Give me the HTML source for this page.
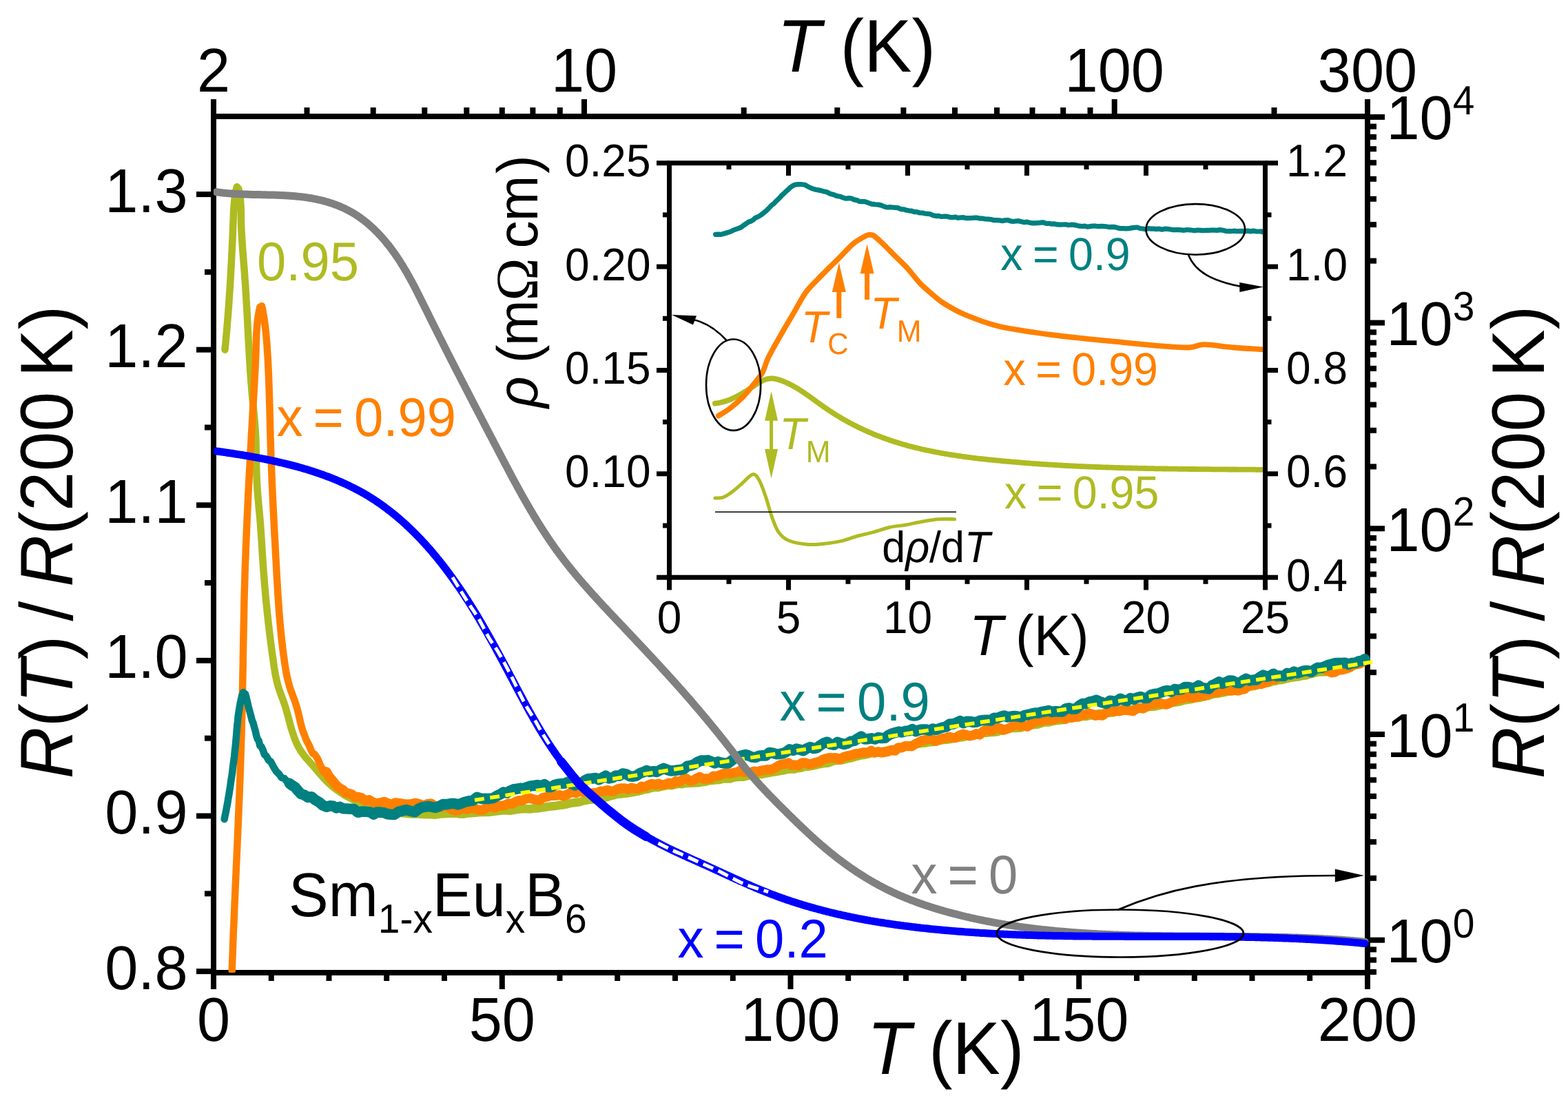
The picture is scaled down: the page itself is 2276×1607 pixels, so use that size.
<!DOCTYPE html>
<html><head><meta charset="utf-8"><title>Sm1-xEuxB6 resistivity</title><style>html,body{margin:0;padding:0;background:#fff;overflow:hidden}svg{display:block}text{text-rendering:geometricPrecision}</style></head><body>
<svg xmlns="http://www.w3.org/2000/svg" width="2276" height="1607" viewBox="0 0 2276 1607">
<defs><clipPath id="mainclip"><rect x="310.0" y="169.0" width="1683.0" height="1243.0"/></clipPath></defs>
<rect width="100%" height="100%" fill="#fff"/>
<rect x="310.0" y="169.0" width="1675.0" height="1243.0" fill="none" stroke="#000" stroke-width="8"/>
<line x1="310.0" y1="1412.0" x2="310.0" y2="1436.0" stroke="#000" stroke-width="8" stroke-linecap="butt"/>
<line x1="393.8" y1="1412.0" x2="393.8" y2="1424.0" stroke="#000" stroke-width="8" stroke-linecap="butt"/>
<line x1="477.5" y1="1412.0" x2="477.5" y2="1424.0" stroke="#000" stroke-width="8" stroke-linecap="butt"/>
<line x1="561.2" y1="1412.0" x2="561.2" y2="1424.0" stroke="#000" stroke-width="8" stroke-linecap="butt"/>
<line x1="645.0" y1="1412.0" x2="645.0" y2="1424.0" stroke="#000" stroke-width="8" stroke-linecap="butt"/>
<line x1="728.8" y1="1412.0" x2="728.8" y2="1436.0" stroke="#000" stroke-width="8" stroke-linecap="butt"/>
<line x1="812.5" y1="1412.0" x2="812.5" y2="1424.0" stroke="#000" stroke-width="8" stroke-linecap="butt"/>
<line x1="896.2" y1="1412.0" x2="896.2" y2="1424.0" stroke="#000" stroke-width="8" stroke-linecap="butt"/>
<line x1="980.0" y1="1412.0" x2="980.0" y2="1424.0" stroke="#000" stroke-width="8" stroke-linecap="butt"/>
<line x1="1063.8" y1="1412.0" x2="1063.8" y2="1424.0" stroke="#000" stroke-width="8" stroke-linecap="butt"/>
<line x1="1147.5" y1="1412.0" x2="1147.5" y2="1436.0" stroke="#000" stroke-width="8" stroke-linecap="butt"/>
<line x1="1231.2" y1="1412.0" x2="1231.2" y2="1424.0" stroke="#000" stroke-width="8" stroke-linecap="butt"/>
<line x1="1315.0" y1="1412.0" x2="1315.0" y2="1424.0" stroke="#000" stroke-width="8" stroke-linecap="butt"/>
<line x1="1398.8" y1="1412.0" x2="1398.8" y2="1424.0" stroke="#000" stroke-width="8" stroke-linecap="butt"/>
<line x1="1482.5" y1="1412.0" x2="1482.5" y2="1424.0" stroke="#000" stroke-width="8" stroke-linecap="butt"/>
<line x1="1566.2" y1="1412.0" x2="1566.2" y2="1436.0" stroke="#000" stroke-width="8" stroke-linecap="butt"/>
<line x1="1650.0" y1="1412.0" x2="1650.0" y2="1424.0" stroke="#000" stroke-width="8" stroke-linecap="butt"/>
<line x1="1733.8" y1="1412.0" x2="1733.8" y2="1424.0" stroke="#000" stroke-width="8" stroke-linecap="butt"/>
<line x1="1817.5" y1="1412.0" x2="1817.5" y2="1424.0" stroke="#000" stroke-width="8" stroke-linecap="butt"/>
<line x1="1901.2" y1="1412.0" x2="1901.2" y2="1424.0" stroke="#000" stroke-width="8" stroke-linecap="butt"/>
<line x1="1985.0" y1="1412.0" x2="1985.0" y2="1436.0" stroke="#000" stroke-width="8" stroke-linecap="butt"/>
<line x1="285.0" y1="1410.1" x2="310.0" y2="1410.1" stroke="#000" stroke-width="8" stroke-linecap="butt"/>
<line x1="297.0" y1="1297.3" x2="310.0" y2="1297.3" stroke="#000" stroke-width="8" stroke-linecap="butt"/>
<line x1="285.0" y1="1184.5" x2="310.0" y2="1184.5" stroke="#000" stroke-width="8" stroke-linecap="butt"/>
<line x1="297.0" y1="1071.7" x2="310.0" y2="1071.7" stroke="#000" stroke-width="8" stroke-linecap="butt"/>
<line x1="285.0" y1="958.9" x2="310.0" y2="958.9" stroke="#000" stroke-width="8" stroke-linecap="butt"/>
<line x1="297.0" y1="846.1" x2="310.0" y2="846.1" stroke="#000" stroke-width="8" stroke-linecap="butt"/>
<line x1="285.0" y1="733.3" x2="310.0" y2="733.3" stroke="#000" stroke-width="8" stroke-linecap="butt"/>
<line x1="297.0" y1="620.5" x2="310.0" y2="620.5" stroke="#000" stroke-width="8" stroke-linecap="butt"/>
<line x1="285.0" y1="507.7" x2="310.0" y2="507.7" stroke="#000" stroke-width="8" stroke-linecap="butt"/>
<line x1="297.0" y1="394.9" x2="310.0" y2="394.9" stroke="#000" stroke-width="8" stroke-linecap="butt"/>
<line x1="285.0" y1="282.1" x2="310.0" y2="282.1" stroke="#000" stroke-width="8" stroke-linecap="butt"/>
<line x1="445.5" y1="169.0" x2="445.5" y2="156.0" stroke="#000" stroke-width="8" stroke-linecap="butt"/>
<line x1="541.7" y1="169.0" x2="541.7" y2="156.0" stroke="#000" stroke-width="8" stroke-linecap="butt"/>
<line x1="616.3" y1="169.0" x2="616.3" y2="156.0" stroke="#000" stroke-width="8" stroke-linecap="butt"/>
<line x1="677.3" y1="169.0" x2="677.3" y2="156.0" stroke="#000" stroke-width="8" stroke-linecap="butt"/>
<line x1="728.8" y1="169.0" x2="728.8" y2="156.0" stroke="#000" stroke-width="8" stroke-linecap="butt"/>
<line x1="773.4" y1="169.0" x2="773.4" y2="156.0" stroke="#000" stroke-width="8" stroke-linecap="butt"/>
<line x1="812.8" y1="169.0" x2="812.8" y2="156.0" stroke="#000" stroke-width="8" stroke-linecap="butt"/>
<line x1="1079.7" y1="169.0" x2="1079.7" y2="156.0" stroke="#000" stroke-width="8" stroke-linecap="butt"/>
<line x1="1215.3" y1="169.0" x2="1215.3" y2="156.0" stroke="#000" stroke-width="8" stroke-linecap="butt"/>
<line x1="1311.4" y1="169.0" x2="1311.4" y2="156.0" stroke="#000" stroke-width="8" stroke-linecap="butt"/>
<line x1="1386.0" y1="169.0" x2="1386.0" y2="156.0" stroke="#000" stroke-width="8" stroke-linecap="butt"/>
<line x1="1447.0" y1="169.0" x2="1447.0" y2="156.0" stroke="#000" stroke-width="8" stroke-linecap="butt"/>
<line x1="1498.5" y1="169.0" x2="1498.5" y2="156.0" stroke="#000" stroke-width="8" stroke-linecap="butt"/>
<line x1="1543.2" y1="169.0" x2="1543.2" y2="156.0" stroke="#000" stroke-width="8" stroke-linecap="butt"/>
<line x1="1582.5" y1="169.0" x2="1582.5" y2="156.0" stroke="#000" stroke-width="8" stroke-linecap="butt"/>
<line x1="1849.5" y1="169.0" x2="1849.5" y2="156.0" stroke="#000" stroke-width="8" stroke-linecap="butt"/>
<line x1="310.0" y1="169.0" x2="310.0" y2="144.0" stroke="#000" stroke-width="8" stroke-linecap="butt"/>
<line x1="848.0" y1="169.0" x2="848.0" y2="144.0" stroke="#000" stroke-width="8" stroke-linecap="butt"/>
<line x1="1617.7" y1="169.0" x2="1617.7" y2="144.0" stroke="#000" stroke-width="8" stroke-linecap="butt"/>
<line x1="1985.0" y1="169.0" x2="1985.0" y2="144.0" stroke="#000" stroke-width="8" stroke-linecap="butt"/>
<line x1="1985.0" y1="1364.7" x2="2010.0" y2="1364.7" stroke="#000" stroke-width="8" stroke-linecap="butt"/>
<line x1="1985.0" y1="1066.0" x2="2010.0" y2="1066.0" stroke="#000" stroke-width="8" stroke-linecap="butt"/>
<line x1="1985.0" y1="767.3" x2="2010.0" y2="767.3" stroke="#000" stroke-width="8" stroke-linecap="butt"/>
<line x1="1985.0" y1="468.6" x2="2010.0" y2="468.6" stroke="#000" stroke-width="8" stroke-linecap="butt"/>
<line x1="1985.0" y1="169.9" x2="2010.0" y2="169.9" stroke="#000" stroke-width="8" stroke-linecap="butt"/>
<line x1="1985.0" y1="1411.0" x2="1998.0" y2="1411.0" stroke="#000" stroke-width="8" stroke-linecap="butt"/>
<line x1="1985.0" y1="1393.6" x2="1998.0" y2="1393.6" stroke="#000" stroke-width="8" stroke-linecap="butt"/>
<line x1="1985.0" y1="1378.4" x2="1998.0" y2="1378.4" stroke="#000" stroke-width="8" stroke-linecap="butt"/>
<line x1="1985.0" y1="1274.8" x2="1998.0" y2="1274.8" stroke="#000" stroke-width="8" stroke-linecap="butt"/>
<line x1="1985.0" y1="1222.2" x2="1998.0" y2="1222.2" stroke="#000" stroke-width="8" stroke-linecap="butt"/>
<line x1="1985.0" y1="1184.9" x2="1998.0" y2="1184.9" stroke="#000" stroke-width="8" stroke-linecap="butt"/>
<line x1="1985.0" y1="1155.9" x2="1998.0" y2="1155.9" stroke="#000" stroke-width="8" stroke-linecap="butt"/>
<line x1="1985.0" y1="1132.3" x2="1998.0" y2="1132.3" stroke="#000" stroke-width="8" stroke-linecap="butt"/>
<line x1="1985.0" y1="1112.3" x2="1998.0" y2="1112.3" stroke="#000" stroke-width="8" stroke-linecap="butt"/>
<line x1="1985.0" y1="1094.9" x2="1998.0" y2="1094.9" stroke="#000" stroke-width="8" stroke-linecap="butt"/>
<line x1="1985.0" y1="1079.7" x2="1998.0" y2="1079.7" stroke="#000" stroke-width="8" stroke-linecap="butt"/>
<line x1="1985.0" y1="976.1" x2="1998.0" y2="976.1" stroke="#000" stroke-width="8" stroke-linecap="butt"/>
<line x1="1985.0" y1="923.5" x2="1998.0" y2="923.5" stroke="#000" stroke-width="8" stroke-linecap="butt"/>
<line x1="1985.0" y1="886.2" x2="1998.0" y2="886.2" stroke="#000" stroke-width="8" stroke-linecap="butt"/>
<line x1="1985.0" y1="857.2" x2="1998.0" y2="857.2" stroke="#000" stroke-width="8" stroke-linecap="butt"/>
<line x1="1985.0" y1="833.6" x2="1998.0" y2="833.6" stroke="#000" stroke-width="8" stroke-linecap="butt"/>
<line x1="1985.0" y1="813.6" x2="1998.0" y2="813.6" stroke="#000" stroke-width="8" stroke-linecap="butt"/>
<line x1="1985.0" y1="796.2" x2="1998.0" y2="796.2" stroke="#000" stroke-width="8" stroke-linecap="butt"/>
<line x1="1985.0" y1="781.0" x2="1998.0" y2="781.0" stroke="#000" stroke-width="8" stroke-linecap="butt"/>
<line x1="1985.0" y1="677.4" x2="1998.0" y2="677.4" stroke="#000" stroke-width="8" stroke-linecap="butt"/>
<line x1="1985.0" y1="624.8" x2="1998.0" y2="624.8" stroke="#000" stroke-width="8" stroke-linecap="butt"/>
<line x1="1985.0" y1="587.5" x2="1998.0" y2="587.5" stroke="#000" stroke-width="8" stroke-linecap="butt"/>
<line x1="1985.0" y1="558.5" x2="1998.0" y2="558.5" stroke="#000" stroke-width="8" stroke-linecap="butt"/>
<line x1="1985.0" y1="534.9" x2="1998.0" y2="534.9" stroke="#000" stroke-width="8" stroke-linecap="butt"/>
<line x1="1985.0" y1="514.9" x2="1998.0" y2="514.9" stroke="#000" stroke-width="8" stroke-linecap="butt"/>
<line x1="1985.0" y1="497.5" x2="1998.0" y2="497.5" stroke="#000" stroke-width="8" stroke-linecap="butt"/>
<line x1="1985.0" y1="482.3" x2="1998.0" y2="482.3" stroke="#000" stroke-width="8" stroke-linecap="butt"/>
<line x1="1985.0" y1="378.7" x2="1998.0" y2="378.7" stroke="#000" stroke-width="8" stroke-linecap="butt"/>
<line x1="1985.0" y1="326.1" x2="1998.0" y2="326.1" stroke="#000" stroke-width="8" stroke-linecap="butt"/>
<line x1="1985.0" y1="288.8" x2="1998.0" y2="288.8" stroke="#000" stroke-width="8" stroke-linecap="butt"/>
<line x1="1985.0" y1="259.8" x2="1998.0" y2="259.8" stroke="#000" stroke-width="8" stroke-linecap="butt"/>
<line x1="1985.0" y1="236.2" x2="1998.0" y2="236.2" stroke="#000" stroke-width="8" stroke-linecap="butt"/>
<line x1="1985.0" y1="216.2" x2="1998.0" y2="216.2" stroke="#000" stroke-width="8" stroke-linecap="butt"/>
<line x1="1985.0" y1="198.8" x2="1998.0" y2="198.8" stroke="#000" stroke-width="8" stroke-linecap="butt"/>
<line x1="1985.0" y1="183.6" x2="1998.0" y2="183.6" stroke="#000" stroke-width="8" stroke-linecap="butt"/>
<g clip-path="url(#mainclip)">
<path d="M326.5,507.7 L327.0,502.7 L327.5,497.7 L328.0,492.7 L328.4,487.7 L328.9,482.7 L329.3,477.7 L329.7,472.7 L330.1,467.7 L330.6,461.8 L331.1,455.8 L331.5,449.8 L332.0,443.8 L332.4,437.9 L332.8,431.9 L333.2,425.9 L333.6,420.0 L334.0,414.0 L334.3,408.0 L334.7,402.1 L335.0,396.1 L335.4,390.1 L335.7,384.1 L336.0,378.1 L336.3,372.1 L336.5,367.2 L336.8,362.2 L337.0,357.1 L337.2,352.1 L337.5,347.1 L337.7,342.1 L337.9,337.1 L338.1,332.0 L338.3,327.0 L338.5,322.0 L338.7,316.9 L338.9,311.9 L339.1,306.8 L339.4,301.7 L339.8,296.6 L340.3,291.6 L340.8,286.5 L341.6,281.4 L342.5,276.2 L343.8,271.2 L346.3,274.2 L347.4,279.2 L348.3,284.3 L348.9,289.4 L349.3,294.6 L349.6,299.7 L349.8,304.9 L349.9,310.0 L349.9,315.1 L350.0,320.3 L350.1,325.3 L350.3,330.4 L350.5,335.4 L350.8,340.5 L351.1,345.5 L351.5,351.4 L351.9,357.4 L352.3,363.3 L352.8,369.3 L353.3,375.2 L353.7,381.1 L354.2,387.1 L354.7,393.0 L355.1,399.0 L355.5,405.0 L356.0,410.9 L356.4,416.9 L356.7,421.9 L357.0,426.9 L357.3,431.9 L357.6,436.9 L357.9,441.9 L358.2,446.9 L358.5,451.9 L358.7,456.9 L359.0,462.0 L359.3,467.0 L359.5,472.0 L359.8,477.0 L360.1,482.0 L360.3,487.0 L360.6,492.0 L360.8,497.0 L361.1,501.9 L361.4,506.9 L361.7,511.9 L361.9,516.9 L362.3,522.9 L362.7,528.9 L363.0,534.9 L363.4,540.9 L363.9,546.9 L364.3,552.8 L364.8,558.8 L365.2,563.8 L365.6,568.8 L366.0,573.8 L366.5,578.8 L367.0,583.7 L367.5,588.7 L368.0,593.7 L368.5,598.7 L368.9,603.7 L369.4,608.6 L369.8,613.6 L370.2,618.6 L370.6,623.6 L370.9,628.6 L371.2,633.6 L371.4,638.6 L371.5,643.6 L371.7,648.6 L371.8,653.6 L371.9,658.6 L371.9,663.6 L372.0,668.6 L372.1,673.6 L372.2,678.6 L372.3,683.6 L372.4,688.6 L372.7,694.6 L372.9,700.6 L373.3,706.6 L373.7,712.6 L374.2,718.6 L374.6,723.5 L375.1,728.5 L375.5,733.5 L376.0,738.5 L376.5,743.5 L376.9,748.4 L377.4,753.4 L377.8,758.4 L378.2,763.4 L378.5,768.4 L378.9,773.4 L379.2,778.4 L379.6,783.4 L379.9,788.4 L380.2,793.4 L380.5,798.4 L380.8,803.4 L381.1,808.4 L381.5,813.4 L381.8,818.3 L382.2,823.3 L382.5,828.3 L382.9,833.3 L383.4,839.3 L383.8,845.3 L384.3,851.2 L384.9,857.2 L385.4,863.2 L385.9,869.2 L386.5,875.1 L387.1,881.1 L387.7,887.1 L388.3,893.0 L388.9,898.0 L389.4,903.0 L390.0,908.0 L390.6,912.9 L391.2,917.9 L391.8,922.9 L392.4,927.8 L393.0,932.8 L393.7,937.8 L394.3,942.7 L395.0,947.7 L395.7,952.7 L396.4,957.6 L397.1,962.6 L397.8,967.6 L398.6,972.5 L399.4,977.4 L400.4,982.4 L401.6,988.2 L403.1,994.0 L404.8,999.8 L406.8,1005.4 L408.5,1010.1 L410.3,1014.8 L412.3,1020.4 L414.2,1026.1 L415.9,1031.9 L417.5,1037.6 L419.0,1043.4 L420.3,1048.3 L421.6,1053.1 L423.0,1058.0 L424.5,1062.9 L426.1,1067.7 L427.8,1072.4 L429.7,1077.1 L431.8,1081.6 L434.6,1086.9 L437.8,1091.9 L441.3,1096.7 L445.1,1101.3 L449.1,1105.8 L452.5,1109.5 L455.8,1113.3 L459.1,1117.1 L462.4,1121.0 L465.7,1124.8 L469.0,1128.6 L472.4,1132.2 L476.0,1135.8 L480.4,1139.8 L485.0,1143.6 L489.8,1147.3 L494.7,1150.7 L499.7,1153.9 L504.9,1156.9 L510.2,1159.7 L515.5,1162.4 L521.0,1164.8 L526.6,1167.0 L532.2,1169.1 L537.9,1171.0 L542.7,1172.4 L547.5,1173.7 L552.4,1174.9 L557.3,1176.0 L562.2,1177.0 L567.1,1177.9 L572.1,1178.7 L577.1,1179.4 L582.1,1180.0 L587.1,1180.6 L592.1,1181.0 L597.1,1181.4 L602.1,1181.4 L607.1,1181.5 L613.1,1182.0 L619.0,1182.2 L625.0,1182.3 L631.0,1182.9 L637.0,1181.9 L643.0,1181.3 L649.0,1181.0 L655.0,1180.8 L661.0,1180.4 L666.9,1181.5 L672.9,1181.7 L678.9,1180.4 L684.9,1180.2 L689.9,1179.7 L694.9,1179.2 L699.9,1178.9 L704.9,1179.0 L709.9,1178.9 L714.9,1178.2 L719.9,1177.5 L724.9,1177.1 L729.9,1176.4 L734.8,1176.6 L739.8,1176.7 L744.8,1176.1 L749.8,1175.1 L754.8,1174.5 L759.8,1174.2 L764.8,1174.3 L769.8,1174.4 L774.8,1173.5 L779.7,1173.5 L784.7,1172.9 L789.7,1172.0 L794.6,1171.2 L799.6,1170.6 L805.5,1170.1 L811.5,1169.0 L817.4,1168.5 L823.3,1167.3 L829.2,1165.8 L835.2,1165.0 L841.1,1164.3 L847.0,1162.4 L851.9,1161.6 L856.8,1160.7 L861.7,1160.5 L866.6,1160.0 L871.5,1158.4 L876.4,1158.0 L881.3,1157.1 L886.2,1155.3 L891.1,1154.3 L896.0,1152.7 L901.0,1152.6 L905.9,1151.8 L910.8,1151.4 L915.7,1150.6 L920.7,1149.6 L925.6,1148.8 L930.5,1147.7 L935.4,1146.0 L940.4,1145.5 L945.3,1143.9 L950.3,1142.9 L955.2,1143.1 L960.2,1141.7 L965.1,1140.6 L970.1,1139.7 L975.0,1140.2 L980.0,1139.0 L984.9,1137.8 L989.9,1138.2 L994.8,1136.9 L999.8,1137.1 L1004.8,1136.7 L1009.7,1136.4 L1014.7,1136.2 L1019.7,1135.2 L1024.6,1134.7 L1029.6,1133.0 L1034.6,1132.9 L1039.5,1132.2 L1044.5,1131.9 L1049.5,1130.5 L1054.4,1130.5 L1059.4,1130.5 L1064.4,1128.8 L1069.3,1128.0 L1074.3,1127.7 L1079.3,1127.7 L1084.2,1126.4 L1089.2,1125.3 L1094.1,1124.5 L1100.1,1124.2 L1106.0,1123.9 L1112.0,1122.7 L1117.9,1121.6 L1123.8,1120.6 L1129.7,1119.5 L1135.7,1118.6 L1141.6,1117.1 L1147.5,1116.5 L1152.4,1116.6 L1157.3,1115.3 L1162.3,1114.8 L1167.2,1113.1 L1172.1,1112.7 L1177.0,1112.1 L1181.9,1111.2 L1186.8,1110.0 L1191.7,1108.9 L1196.7,1108.1 L1201.6,1107.7 L1206.5,1105.8 L1211.4,1104.2 L1216.3,1103.9 L1221.2,1103.6 L1226.1,1102.4 L1231.0,1101.1 L1235.9,1100.4 L1240.8,1098.7 L1245.7,1097.4 L1250.6,1096.2 L1255.5,1095.7 L1260.4,1094.5 L1265.3,1093.3 L1270.2,1092.9 L1275.1,1092.6 L1280.0,1091.0 L1285.0,1090.3 L1289.9,1089.0 L1294.8,1088.6 L1299.7,1087.5 L1304.6,1085.9 L1309.5,1084.5 L1314.4,1083.1 L1319.3,1082.5 L1324.2,1081.7 L1329.1,1080.4 L1334.1,1079.6 L1339.0,1078.7 L1343.9,1078.6 L1348.8,1077.1 L1353.7,1077.2 L1358.7,1076.1 L1363.6,1075.2 L1368.5,1074.2 L1373.4,1073.8 L1378.4,1073.3 L1383.3,1072.1 L1388.2,1071.0 L1393.2,1070.5 L1398.1,1070.0 L1403.0,1068.7 L1408.0,1068.1 L1412.9,1067.8 L1417.9,1066.5 L1422.8,1065.0 L1427.7,1063.9 L1432.7,1063.7 L1437.6,1063.1 L1442.6,1062.9 L1447.5,1062.3 L1452.4,1060.6 L1457.4,1059.2 L1462.3,1058.2 L1467.2,1057.2 L1472.2,1057.0 L1477.1,1056.8 L1482.0,1056.4 L1487.0,1054.7 L1491.9,1054.4 L1496.8,1053.0 L1501.7,1051.9 L1506.7,1051.5 L1511.6,1049.8 L1516.5,1048.5 L1521.5,1048.6 L1526.4,1047.4 L1531.3,1046.4 L1536.2,1045.9 L1541.2,1045.3 L1546.1,1043.6 L1551.0,1042.8 L1556.0,1042.2 L1560.9,1041.5 L1565.9,1040.4 L1570.8,1040.1 L1575.7,1040.1 L1580.7,1038.9 L1585.6,1038.2 L1590.6,1036.8 L1595.5,1035.9 L1600.5,1035.8 L1605.4,1034.5 L1610.4,1034.7 L1615.3,1034.5 L1620.3,1032.8 L1625.3,1032.9 L1630.2,1031.7 L1635.2,1031.4 L1640.1,1030.8 L1645.1,1029.5 L1650.0,1029.0 L1654.9,1028.4 L1659.9,1027.9 L1664.8,1026.4 L1669.8,1026.0 L1674.7,1025.8 L1679.6,1024.8 L1684.6,1023.6 L1689.5,1021.9 L1694.4,1021.2 L1699.3,1020.2 L1704.3,1019.8 L1709.2,1019.1 L1714.1,1018.1 L1719.0,1016.5 L1723.9,1015.9 L1728.8,1015.1 L1733.7,1013.5 L1738.6,1013.3 L1743.5,1012.3 L1748.4,1010.5 L1753.3,1010.3 L1758.2,1008.5 L1763.1,1007.3 L1768.0,1006.8 L1772.9,1005.9 L1777.8,1004.8 L1782.7,1003.9 L1787.6,1002.6 L1792.5,1001.2 L1797.3,999.7 L1802.2,998.3 L1807.1,998.0 L1812.0,997.5 L1816.9,996.3 L1821.8,995.6 L1826.7,994.1 L1831.6,992.6 L1836.5,991.5 L1841.4,991.3 L1846.3,989.3 L1851.2,988.6 L1856.1,987.3 L1861.0,986.9 L1865.9,985.6 L1870.8,984.5 L1875.7,983.5 L1880.6,982.8 L1885.5,982.3 L1890.4,981.0 L1895.3,980.6 L1900.3,978.9 L1905.2,977.8 L1910.1,976.5 L1915.0,975.4 L1920.0,975.6 L1924.9,975.2 L1930.8,973.6 L1936.7,972.2 L1942.6,971.2 L1948.5,970.6 L1954.3,969.7 L1959.2,968.6 L1964.0,967.0 L1968.7,964.7 L1973.5,962.9 L1978.2,960.6 L1981.0,959.7" fill="none" stroke="#AFBB22" stroke-width="10.5" stroke-linejoin="round" stroke-linecap="round" />
<path d="M521.0,1164.8 L526.6,1167.0 L532.2,1169.1 L537.9,1171.0 L542.7,1172.4 L547.5,1173.7 L552.4,1174.9 L557.3,1176.0 L562.2,1177.0 L567.1,1177.9 L572.1,1178.7 L577.1,1179.4 L582.1,1180.0 L587.1,1180.6 L592.1,1181.0 L597.1,1181.4 L602.1,1181.4 L607.1,1181.5 L613.1,1182.0 L619.0,1182.2 L625.0,1182.3 L631.0,1182.9 L637.0,1181.9 L643.0,1181.3 L649.0,1181.0 L655.0,1180.8 L661.0,1180.4 L666.9,1181.5 L672.9,1181.7 L678.9,1180.4 L684.9,1180.2 L689.9,1179.7 L694.9,1179.2 L699.9,1178.9 L704.9,1179.0 L709.9,1178.9 L714.9,1178.2 L719.9,1177.5 L724.9,1177.1 L729.9,1176.4 L734.8,1176.6 L739.8,1176.7 L744.8,1176.1 L749.8,1175.1 L754.8,1174.5 L759.8,1174.2 L764.8,1174.3 L769.8,1174.4 L774.8,1173.5 L779.7,1173.5 L784.7,1172.9 L789.7,1172.0 L794.6,1171.2 L799.6,1170.6 L805.5,1170.1 L811.5,1169.0 L817.4,1168.5 L823.3,1167.3 L829.2,1165.8 L835.2,1165.0 L841.1,1164.3 L847.0,1162.4 L851.9,1161.6 L856.8,1160.7 L861.7,1160.5 L866.6,1160.0 L871.5,1158.4 L876.4,1158.0 L881.3,1157.1 L886.2,1155.3 L891.1,1154.3 L896.0,1152.7 L901.0,1152.6 L905.9,1151.8 L910.8,1151.4 L915.7,1150.6 L920.7,1149.6 L925.6,1148.8 L930.5,1147.7 L935.4,1146.0 L940.4,1145.5 L945.3,1143.9 L950.3,1142.9 L955.2,1143.1 L960.2,1141.7 L965.1,1140.6 L970.1,1139.7 L975.0,1140.2 L980.0,1139.0 L984.9,1137.8 L989.9,1138.2 L994.8,1136.9 L999.8,1137.1 L1004.8,1136.7 L1009.7,1136.4 L1014.7,1136.2 L1019.7,1135.2 L1024.6,1134.7 L1029.6,1133.0 L1034.6,1132.9 L1039.5,1132.2 L1044.5,1131.9 L1049.5,1130.5 L1054.4,1130.5 L1059.4,1130.5 L1064.4,1128.8 L1069.3,1128.0 L1074.3,1127.7 L1079.3,1127.7 L1084.2,1126.4 L1089.2,1125.3 L1094.1,1124.5 L1100.1,1124.2 L1106.0,1123.9 L1112.0,1122.7 L1117.9,1121.6 L1123.8,1120.6 L1129.7,1119.5 L1135.7,1118.6 L1141.6,1117.1 L1147.5,1116.5 L1152.4,1116.6 L1157.3,1115.3 L1162.3,1114.8 L1167.2,1113.1 L1172.1,1112.7 L1177.0,1112.1 L1181.9,1111.2 L1186.8,1110.0 L1191.7,1108.9 L1196.7,1108.1 L1201.6,1107.7 L1206.5,1105.8 L1211.4,1104.2 L1216.3,1103.9 L1221.2,1103.6 L1226.1,1102.4 L1231.0,1101.1 L1235.9,1100.4 L1240.8,1098.7 L1245.7,1097.4 L1250.6,1096.2 L1255.5,1095.7 L1260.4,1094.5 L1265.3,1093.3 L1270.2,1092.9 L1275.1,1092.6 L1280.0,1091.0 L1285.0,1090.3 L1289.9,1089.0 L1294.8,1088.6 L1299.7,1087.5 L1304.6,1085.9 L1309.5,1084.5 L1314.4,1083.1 L1319.3,1082.5 L1324.2,1081.7 L1329.1,1080.4 L1334.1,1079.6 L1339.0,1078.7 L1343.9,1078.6 L1348.8,1077.1 L1353.7,1077.2 L1358.7,1076.1 L1363.6,1075.2 L1368.5,1074.2 L1373.4,1073.8 L1378.4,1073.3 L1383.3,1072.1 L1388.2,1071.0 L1393.2,1070.5 L1398.1,1070.0 L1403.0,1068.7 L1408.0,1068.1 L1412.9,1067.8 L1417.9,1066.5 L1422.8,1065.0 L1427.7,1063.9 L1432.7,1063.7 L1437.6,1063.1 L1442.6,1062.9 L1447.5,1062.3 L1452.4,1060.6 L1457.4,1059.2 L1462.3,1058.2 L1467.2,1057.2 L1472.2,1057.0 L1477.1,1056.8 L1482.0,1056.4 L1487.0,1054.7 L1491.9,1054.4 L1496.8,1053.0 L1501.7,1051.9 L1506.7,1051.5 L1511.6,1049.8 L1516.5,1048.5 L1521.5,1048.6 L1526.4,1047.4 L1531.3,1046.4 L1536.2,1045.9 L1541.2,1045.3 L1546.1,1043.6 L1551.0,1042.8 L1556.0,1042.2 L1560.9,1041.5 L1565.9,1040.4 L1570.8,1040.1 L1575.7,1040.1 L1580.7,1038.9 L1585.6,1038.2 L1590.6,1036.8 L1595.5,1035.9 L1600.5,1035.8 L1605.4,1034.5 L1610.4,1034.7 L1615.3,1034.5 L1620.3,1032.8 L1625.3,1032.9 L1630.2,1031.7 L1635.2,1031.4 L1640.1,1030.8 L1645.1,1029.5 L1650.0,1029.0 L1654.9,1028.4 L1659.9,1027.9 L1664.8,1026.4 L1669.8,1026.0 L1674.7,1025.8 L1679.6,1024.8 L1684.6,1023.6 L1689.5,1021.9 L1694.4,1021.2 L1699.3,1020.2 L1704.3,1019.8 L1709.2,1019.1 L1714.1,1018.1 L1719.0,1016.5 L1723.9,1015.9 L1728.8,1015.1 L1733.7,1013.5 L1738.6,1013.3 L1743.5,1012.3 L1748.4,1010.5 L1753.3,1010.3 L1758.2,1008.5 L1763.1,1007.3 L1768.0,1006.8 L1772.9,1005.9 L1777.8,1004.8 L1782.7,1003.9 L1787.6,1002.6 L1792.5,1001.2 L1797.3,999.7 L1802.2,998.3 L1807.1,998.0 L1812.0,997.5 L1816.9,996.3 L1821.8,995.6 L1826.7,994.1 L1831.6,992.6 L1836.5,991.5 L1841.4,991.3 L1846.3,989.3 L1851.2,988.6 L1856.1,987.3 L1861.0,986.9 L1865.9,985.6 L1870.8,984.5 L1875.7,983.5 L1880.6,982.8 L1885.5,982.3 L1890.4,981.0 L1895.3,980.6 L1900.3,978.9 L1905.2,977.8 L1910.1,976.5 L1915.0,975.4 L1920.0,975.6 L1924.9,975.2 L1930.8,973.6 L1936.7,972.2 L1942.6,971.2 L1948.5,970.6 L1954.3,969.7 L1959.2,968.6 L1964.0,967.0 L1968.7,964.7 L1973.5,962.9 L1978.2,960.6 L1981.0,959.7" fill="none" stroke="#AFBB22" stroke-width="12.5" stroke-linejoin="round" stroke-linecap="round" />
<path d="M336.8,1409.0 L336.9,1404.0 L337.1,1399.0 L337.3,1394.0 L337.5,1389.0 L337.7,1384.0 L337.9,1379.0 L338.1,1374.0 L338.2,1369.0 L338.4,1364.0 L338.6,1359.0 L338.8,1354.0 L339.0,1349.0 L339.3,1344.0 L339.5,1339.0 L339.7,1334.0 L339.9,1329.0 L340.1,1324.0 L340.3,1319.0 L340.5,1314.0 L340.7,1309.0 L341.0,1304.0 L341.2,1299.0 L341.4,1294.0 L341.6,1289.0 L341.9,1283.0 L342.1,1277.0 L342.4,1271.0 L342.7,1265.0 L342.9,1259.0 L343.2,1253.0 L343.5,1247.0 L343.7,1241.1 L344.0,1235.1 L344.3,1229.1 L344.5,1223.1 L344.8,1217.1 L345.1,1211.1 L345.3,1205.1 L345.6,1199.1 L345.8,1193.1 L346.1,1187.1 L346.3,1181.1 L346.6,1175.1 L346.8,1169.2 L347.1,1163.2 L347.3,1157.2 L347.6,1151.2 L347.8,1145.2 L348.0,1139.2 L348.3,1133.2 L348.5,1127.2 L348.7,1121.2 L348.9,1116.2 L349.1,1111.2 L349.2,1106.2 L349.4,1101.2 L349.6,1096.2 L349.7,1091.2 L349.9,1086.2 L350.1,1081.2 L350.2,1076.2 L350.4,1071.2 L350.5,1066.2 L350.6,1061.2 L350.8,1056.2 L350.9,1051.2 L351.0,1046.2 L351.2,1041.2 L351.3,1036.2 L351.4,1031.2 L351.5,1026.2 L351.6,1021.2 L351.7,1016.2 L351.8,1011.1 L351.9,1006.1 L352.0,1001.1 L352.1,996.1 L352.2,991.1 L352.3,986.1 L352.4,981.1 L352.5,976.1 L352.6,971.1 L352.7,966.1 L352.8,961.0 L352.8,956.0 L352.9,951.0 L353.0,946.0 L353.1,941.0 L353.2,936.0 L353.3,931.0 L353.4,926.0 L353.5,921.0 L353.6,916.0 L353.7,911.0 L353.8,906.0 L353.9,901.0 L354.0,896.0 L354.1,891.0 L354.2,886.0 L354.3,881.0 L354.4,876.0 L354.5,870.0 L354.7,864.0 L354.8,858.0 L355.0,852.0 L355.2,846.0 L355.4,840.0 L355.5,834.0 L355.7,828.0 L355.9,822.1 L356.1,816.1 L356.4,810.1 L356.6,804.1 L356.8,798.1 L357.0,792.2 L357.3,786.2 L357.5,780.2 L357.8,774.2 L358.0,768.2 L358.3,762.3 L358.5,756.3 L358.8,750.3 L359.1,744.3 L359.4,738.3 L359.7,732.4 L359.9,726.4 L360.2,720.4 L360.5,714.4 L360.8,708.4 L361.1,702.4 L361.4,697.4 L361.7,692.4 L361.9,687.4 L362.2,682.4 L362.5,677.4 L362.7,672.4 L363.0,667.4 L363.3,662.4 L363.5,657.4 L363.8,652.4 L364.1,647.4 L364.4,642.4 L364.6,637.4 L364.9,632.3 L365.2,627.3 L365.5,622.3 L365.8,617.2 L366.1,612.2 L366.4,607.2 L366.6,602.1 L366.9,597.1 L367.2,592.0 L367.5,587.0 L367.8,581.9 L368.1,576.9 L368.4,571.8 L368.7,566.7 L369.0,561.7 L369.2,556.6 L369.5,551.6 L369.8,546.5 L370.1,541.5 L370.4,535.6 L370.7,529.6 L370.9,523.7 L371.2,517.9 L371.4,512.2 L371.6,506.5 L371.7,500.9 L371.9,495.4 L372.1,489.9 L372.3,484.2 L372.7,478.4 L373.1,473.3 L373.6,468.0 L374.3,462.4 L375.2,456.4 L376.1,451.5 L377.3,445.9 L379.9,444.2 L381.3,450.0 L382.3,456.1 L383.3,461.9 L384.1,467.5 L384.8,472.9 L385.4,478.1 L386.0,483.1 L386.5,488.9 L387.0,494.7 L387.5,500.3 L387.8,506.0 L388.2,511.8 L388.6,517.5 L388.9,523.3 L389.2,529.1 L389.5,535.0 L389.7,540.9 L390.0,546.8 L390.2,552.7 L390.4,558.7 L390.6,564.7 L390.8,569.7 L390.9,574.7 L391.1,579.7 L391.2,584.7 L391.4,589.8 L391.5,594.8 L391.6,599.9 L391.8,604.9 L391.9,610.0 L392.0,615.0 L392.1,620.1 L392.3,625.2 L392.4,630.2 L392.5,635.3 L392.7,640.3 L392.8,645.4 L393.0,650.4 L393.2,655.5 L393.3,660.5 L393.5,665.5 L393.7,670.5 L393.9,675.6 L394.1,680.6 L394.3,685.6 L394.5,690.6 L394.7,695.6 L394.9,701.6 L395.2,707.5 L395.5,713.5 L395.7,719.5 L396.0,725.5 L396.3,731.4 L396.6,737.4 L396.9,743.4 L397.2,749.3 L397.5,755.3 L397.8,761.3 L398.1,767.2 L398.4,773.2 L398.7,779.2 L399.1,785.1 L399.4,791.1 L399.7,797.1 L400.0,803.1 L400.3,809.1 L400.7,815.0 L401.0,821.0 L401.3,826.0 L401.5,831.0 L401.8,836.0 L402.1,841.0 L402.4,846.0 L402.7,851.0 L403.0,856.0 L403.3,861.0 L403.6,866.0 L404.0,871.1 L404.3,876.1 L404.7,881.1 L405.0,886.1 L405.4,891.1 L405.8,896.1 L406.2,901.1 L406.7,906.1 L407.1,911.1 L407.6,916.0 L408.1,921.0 L408.6,926.0 L409.2,931.0 L409.8,936.0 L410.3,940.9 L411.0,945.9 L411.6,950.9 L412.3,955.8 L413.1,961.8 L414.0,967.7 L415.0,973.6 L416.1,979.5 L417.3,985.3 L418.8,991.1 L420.4,996.9 L422.3,1002.6 L424.1,1007.3 L425.8,1012.0 L427.6,1016.7 L429.2,1021.4 L430.7,1026.2 L432.0,1031.1 L433.2,1036.0 L434.3,1040.9 L435.5,1045.8 L436.6,1050.7 L437.9,1055.5 L439.6,1061.3 L441.5,1065.8 L443.7,1072.0 L446.1,1077.4 L448.8,1082.2 L451.6,1089.3 L454.1,1093.8 L456.7,1095.0 L459.4,1098.8 L462.2,1103.9 L465.1,1111.1 L468.0,1116.8 L470.9,1119.8 L473.9,1120.3 L476.9,1126.6 L480.1,1129.9 L484.0,1134.8 L488.2,1140.0 L492.8,1143.9 L497.7,1146.6 L501.9,1151.1 L506.4,1151.7 L510.8,1153.1 L515.3,1157.4 L519.9,1156.9 L524.5,1158.0 L530.2,1162.4 L535.9,1161.1 L541.8,1164.9 L547.8,1166.1 L552.8,1165.1 L557.9,1163.8 L562.9,1165.9 L567.9,1168.0 L573.9,1165.2 L579.8,1165.9 L585.8,1166.9 L591.7,1167.4 L597.7,1166.9 L603.6,1165.7 L609.6,1167.4 L615.6,1169.7 L620.6,1166.9 L625.6,1166.4 L630.6,1169.6 L635.6,1171.4 L640.6,1172.0 L645.6,1169.0 L650.6,1171.6 L655.6,1174.7 L660.6,1176.7 L665.5,1176.3 L671.5,1172.6 L677.5,1175.0 L683.5,1172.7 L689.5,1173.8 L695.5,1175.9 L701.4,1175.5 L707.4,1171.8 L713.4,1170.3 L718.3,1172.7 L723.3,1169.5 L728.3,1169.9 L733.2,1168.7 L738.2,1166.2 L743.1,1167.0 L748.1,1163.8 L753.0,1162.0 L757.9,1162.1 L762.9,1159.9 L767.8,1158.2 L772.7,1159.7 L777.6,1161.0 L782.5,1162.0 L788.4,1157.8 L794.2,1156.6 L800.1,1154.8 L806.0,1155.0 L811.9,1154.1 L817.8,1155.7 L823.8,1153.2 L829.7,1149.8 L835.7,1151.3 L841.6,1148.8 L846.6,1150.1 L851.6,1150.0 L856.6,1152.0 L861.6,1151.1 L866.6,1150.8 L871.6,1148.5 L876.7,1148.7 L881.7,1147.0 L886.7,1148.7 L891.7,1148.1 L896.6,1145.4 L901.6,1144.3 L906.6,1144.2 L911.6,1145.9 L916.6,1143.5 L921.5,1144.8 L926.5,1145.0 L931.4,1141.5 L936.4,1142.6 L941.4,1139.6 L946.3,1137.8 L951.2,1139.1 L956.2,1137.5 L961.1,1139.8 L966.1,1138.5 L971.0,1136.5 L976.0,1137.8 L980.9,1133.8 L985.8,1135.1 L990.8,1131.7 L995.7,1130.0 L1000.7,1133.2 L1005.6,1133.1 L1010.5,1130.2 L1015.5,1127.6 L1020.4,1130.6 L1025.4,1130.2 L1030.3,1130.6 L1035.2,1126.6 L1040.2,1126.8 L1045.1,1125.1 L1050.1,1123.1 L1055.0,1122.3 L1060.0,1123.0 L1064.9,1121.7 L1069.9,1120.8 L1074.8,1118.6 L1079.8,1121.0 L1084.7,1121.0 L1089.7,1121.5 L1094.7,1119.5 L1099.6,1120.3 L1104.6,1118.7 L1109.5,1117.9 L1114.5,1117.0 L1119.4,1117.2 L1124.4,1115.1 L1129.4,1111.9 L1134.3,1109.5 L1139.3,1108.9 L1144.2,1107.3 L1149.2,1110.9 L1154.2,1110.3 L1159.1,1111.2 L1164.1,1107.2 L1169.0,1107.3 L1174.0,1109.4 L1178.9,1108.7 L1183.9,1106.9 L1188.8,1105.9 L1193.8,1102.9 L1198.7,1101.2 L1203.7,1100.0 L1208.6,1100.2 L1213.6,1100.0 L1218.5,1102.3 L1224.4,1099.0 L1230.4,1097.3 L1236.3,1096.0 L1242.2,1094.2 L1248.1,1093.4 L1254.0,1092.2 L1259.9,1092.5 L1264.8,1089.7 L1269.7,1092.8 L1274.6,1091.0 L1279.6,1092.7 L1284.5,1091.8 L1289.4,1090.8 L1294.3,1088.7 L1299.2,1089.8 L1304.1,1085.2 L1309.0,1085.4 L1313.9,1082.9 L1318.8,1083.3 L1323.7,1083.4 L1328.6,1079.8 L1333.5,1077.6 L1338.4,1074.9 L1343.3,1074.2 L1348.2,1072.5 L1353.1,1073.0 L1358.1,1076.0 L1363.0,1073.9 L1367.9,1072.0 L1372.8,1071.4 L1377.7,1069.7 L1382.6,1070.8 L1387.6,1071.0 L1392.5,1067.5 L1397.4,1065.7 L1402.3,1066.7 L1407.3,1068.4 L1412.2,1067.3 L1417.1,1065.1 L1422.1,1066.6 L1427.0,1061.6 L1431.9,1058.8 L1436.9,1060.9 L1441.8,1059.7 L1446.7,1056.6 L1451.7,1057.3 L1456.6,1059.9 L1461.5,1058.3 L1466.5,1056.1 L1471.4,1053.1 L1476.4,1051.0 L1481.3,1054.1 L1486.3,1053.2 L1491.2,1054.9 L1496.1,1050.5 L1501.1,1048.8 L1506.0,1046.5 L1511.0,1046.8 L1515.9,1044.7 L1520.9,1044.4 L1525.8,1044.7 L1530.8,1044.0 L1535.7,1041.8 L1540.7,1040.2 L1545.6,1044.2 L1550.6,1041.7 L1555.5,1041.8 L1560.5,1040.9 L1565.4,1040.8 L1570.4,1037.9 L1575.3,1037.3 L1580.2,1035.4 L1585.2,1036.5 L1590.1,1038.9 L1595.1,1038.1 L1600.0,1038.7 L1605.0,1035.2 L1609.9,1031.7 L1614.9,1032.4 L1619.8,1032.2 L1624.8,1032.2 L1629.7,1030.8 L1634.6,1031.0 L1639.6,1031.4 L1644.5,1032.3 L1649.5,1029.0 L1654.4,1027.7 L1659.3,1028.7 L1664.3,1025.5 L1669.2,1022.8 L1675.1,1021.9 L1681.1,1019.6 L1687.0,1021.8 L1692.9,1022.8 L1698.8,1020.1 L1704.7,1017.1 L1710.6,1014.7 L1716.5,1013.8 L1722.4,1011.9 L1728.3,1012.3 L1733.3,1013.0 L1738.2,1011.2 L1743.1,1008.6 L1748.0,1010.4 L1752.9,1007.2 L1757.8,1005.9 L1762.7,1005.1 L1767.6,1004.7 L1772.5,1002.5 L1777.3,1002.5 L1782.2,1001.4 L1787.1,1002.8 L1792.0,1001.8 L1796.8,1002.7 L1801.7,1001.2 L1806.6,1000.4 L1811.4,998.3 L1816.3,995.9 L1821.1,996.0 L1826.0,994.6 L1830.8,994.9 L1835.7,993.3 L1840.5,991.6 L1845.4,987.8 L1850.3,988.2 L1855.1,985.5 L1860.0,982.1 L1864.9,979.4 L1869.8,978.1 L1874.7,977.4 L1880.6,978.9 L1886.5,977.1 L1892.5,974.5 L1897.4,976.9 L1902.4,976.9 L1907.4,973.8 L1912.4,972.1 L1917.4,971.6 L1922.5,972.6 L1927.5,976.0 L1932.6,978.3 L1937.6,977.6 L1942.6,974.9 L1948.6,974.1 L1954.5,972.5 L1960.2,970.4 L1964.9,966.4 L1969.6,966.0 L1974.1,965.4 L1978.4,962.5 L1981.0,956.7" fill="none" stroke="#FF8000" stroke-width="10.5" stroke-linejoin="round" stroke-linecap="round" />
<path d="M470.9,1119.8 L473.9,1120.3 L476.9,1126.6 L480.1,1129.9 L484.0,1134.8 L488.2,1140.0 L492.8,1143.9 L497.7,1146.6 L501.9,1151.1 L506.4,1151.7 L510.8,1153.1 L515.3,1157.4 L519.9,1156.9 L524.5,1158.0 L530.2,1162.4 L535.9,1161.1 L541.8,1164.9 L547.8,1166.1 L552.8,1165.1 L557.9,1163.8 L562.9,1165.9 L567.9,1168.0 L573.9,1165.2 L579.8,1165.9 L585.8,1166.9 L591.7,1167.4 L597.7,1166.9 L603.6,1165.7 L609.6,1167.4 L615.6,1169.7 L620.6,1166.9 L625.6,1166.4 L630.6,1169.6 L635.6,1171.4 L640.6,1172.0 L645.6,1169.0 L650.6,1171.6 L655.6,1174.7 L660.6,1176.7 L665.5,1176.3 L671.5,1172.6 L677.5,1175.0 L683.5,1172.7 L689.5,1173.8 L695.5,1175.9 L701.4,1175.5 L707.4,1171.8 L713.4,1170.3 L718.3,1172.7 L723.3,1169.5 L728.3,1169.9 L733.2,1168.7 L738.2,1166.2 L743.1,1167.0 L748.1,1163.8 L753.0,1162.0 L757.9,1162.1 L762.9,1159.9 L767.8,1158.2 L772.7,1159.7 L777.6,1161.0 L782.5,1162.0 L788.4,1157.8 L794.2,1156.6 L800.1,1154.8 L806.0,1155.0 L811.9,1154.1 L817.8,1155.7 L823.8,1153.2 L829.7,1149.8 L835.7,1151.3 L841.6,1148.8 L846.6,1150.1 L851.6,1150.0 L856.6,1152.0 L861.6,1151.1 L866.6,1150.8 L871.6,1148.5 L876.7,1148.7 L881.7,1147.0 L886.7,1148.7 L891.7,1148.1 L896.6,1145.4 L901.6,1144.3 L906.6,1144.2 L911.6,1145.9 L916.6,1143.5 L921.5,1144.8 L926.5,1145.0 L931.4,1141.5 L936.4,1142.6 L941.4,1139.6 L946.3,1137.8 L951.2,1139.1 L956.2,1137.5 L961.1,1139.8 L966.1,1138.5 L971.0,1136.5 L976.0,1137.8 L980.9,1133.8 L985.8,1135.1 L990.8,1131.7 L995.7,1130.0 L1000.7,1133.2 L1005.6,1133.1 L1010.5,1130.2 L1015.5,1127.6 L1020.4,1130.6 L1025.4,1130.2 L1030.3,1130.6 L1035.2,1126.6 L1040.2,1126.8 L1045.1,1125.1 L1050.1,1123.1 L1055.0,1122.3 L1060.0,1123.0 L1064.9,1121.7 L1069.9,1120.8 L1074.8,1118.6 L1079.8,1121.0 L1084.7,1121.0 L1089.7,1121.5 L1094.7,1119.5 L1099.6,1120.3 L1104.6,1118.7 L1109.5,1117.9 L1114.5,1117.0 L1119.4,1117.2 L1124.4,1115.1 L1129.4,1111.9 L1134.3,1109.5 L1139.3,1108.9 L1144.2,1107.3 L1149.2,1110.9 L1154.2,1110.3 L1159.1,1111.2 L1164.1,1107.2 L1169.0,1107.3 L1174.0,1109.4 L1178.9,1108.7 L1183.9,1106.9 L1188.8,1105.9 L1193.8,1102.9 L1198.7,1101.2 L1203.7,1100.0 L1208.6,1100.2 L1213.6,1100.0 L1218.5,1102.3 L1224.4,1099.0 L1230.4,1097.3 L1236.3,1096.0 L1242.2,1094.2 L1248.1,1093.4 L1254.0,1092.2 L1259.9,1092.5 L1264.8,1089.7 L1269.7,1092.8 L1274.6,1091.0 L1279.6,1092.7 L1284.5,1091.8 L1289.4,1090.8 L1294.3,1088.7 L1299.2,1089.8 L1304.1,1085.2 L1309.0,1085.4 L1313.9,1082.9 L1318.8,1083.3 L1323.7,1083.4 L1328.6,1079.8 L1333.5,1077.6 L1338.4,1074.9 L1343.3,1074.2 L1348.2,1072.5 L1353.1,1073.0 L1358.1,1076.0 L1363.0,1073.9 L1367.9,1072.0 L1372.8,1071.4 L1377.7,1069.7 L1382.6,1070.8 L1387.6,1071.0 L1392.5,1067.5 L1397.4,1065.7 L1402.3,1066.7 L1407.3,1068.4 L1412.2,1067.3 L1417.1,1065.1 L1422.1,1066.6 L1427.0,1061.6 L1431.9,1058.8 L1436.9,1060.9 L1441.8,1059.7 L1446.7,1056.6 L1451.7,1057.3 L1456.6,1059.9 L1461.5,1058.3 L1466.5,1056.1 L1471.4,1053.1 L1476.4,1051.0 L1481.3,1054.1 L1486.3,1053.2 L1491.2,1054.9 L1496.1,1050.5 L1501.1,1048.8 L1506.0,1046.5 L1511.0,1046.8 L1515.9,1044.7 L1520.9,1044.4 L1525.8,1044.7 L1530.8,1044.0 L1535.7,1041.8 L1540.7,1040.2 L1545.6,1044.2 L1550.6,1041.7 L1555.5,1041.8 L1560.5,1040.9 L1565.4,1040.8 L1570.4,1037.9 L1575.3,1037.3 L1580.2,1035.4 L1585.2,1036.5 L1590.1,1038.9 L1595.1,1038.1 L1600.0,1038.7 L1605.0,1035.2 L1609.9,1031.7 L1614.9,1032.4 L1619.8,1032.2 L1624.8,1032.2 L1629.7,1030.8 L1634.6,1031.0 L1639.6,1031.4 L1644.5,1032.3 L1649.5,1029.0 L1654.4,1027.7 L1659.3,1028.7 L1664.3,1025.5 L1669.2,1022.8 L1675.1,1021.9 L1681.1,1019.6 L1687.0,1021.8 L1692.9,1022.8 L1698.8,1020.1 L1704.7,1017.1 L1710.6,1014.7 L1716.5,1013.8 L1722.4,1011.9 L1728.3,1012.3 L1733.3,1013.0 L1738.2,1011.2 L1743.1,1008.6 L1748.0,1010.4 L1752.9,1007.2 L1757.8,1005.9 L1762.7,1005.1 L1767.6,1004.7 L1772.5,1002.5 L1777.3,1002.5 L1782.2,1001.4 L1787.1,1002.8 L1792.0,1001.8 L1796.8,1002.7 L1801.7,1001.2 L1806.6,1000.4" fill="none" stroke="#FF8000" stroke-width="14" stroke-linejoin="round" stroke-linecap="round" />
<path d="M325.7,1189.1 L326.7,1183.8 L327.7,1179.4 L328.7,1173.9 L329.6,1169.4 L330.5,1164.4 L331.3,1159.0 L332.2,1154.5 L333.0,1149.0 L333.8,1144.4 L334.7,1138.1 L335.5,1132.0 L336.4,1126.5 L337.2,1121.4 L337.9,1114.8 L338.7,1108.7 L339.4,1103.3 L340.1,1098.1 L340.7,1092.0 L341.3,1086.7 L341.8,1082.4 L342.3,1076.4 L342.7,1072.1 L343.2,1066.6 L343.6,1061.1 L344.1,1055.7 L344.5,1050.9 L345.0,1046.8 L345.5,1041.2 L346.1,1036.6 L346.9,1031.9 L347.7,1026.6 L348.6,1021.7 L349.8,1016.0 L351.1,1010.5 L352.9,1005.1 L356.1,1007.4 L357.6,1012.9 L358.8,1017.9 L359.9,1023.1 L361.3,1028.5 L362.6,1033.1 L364.2,1039.2 L365.8,1045.7 L367.4,1049.2 L369.1,1055.7 L370.6,1060.7 L372.1,1067.7 L373.8,1072.8 L375.5,1075.1 L377.3,1082.6 L379.2,1083.6 L381.3,1088.0 L383.9,1095.3 L386.8,1097.9 L389.9,1103.6 L393.3,1106.1 L397.0,1113.2 L400.9,1119.6 L405.1,1123.8 L408.8,1129.0 L412.6,1129.9 L416.4,1134.2 L420.3,1137.3 L424.2,1140.3 L428.2,1142.6 L432.2,1147.5 L437.0,1152.7 L442.0,1154.2 L447.0,1157.4 L452.2,1156.7 L457.5,1161.3 L462.9,1164.3 L468.5,1169.0 L474.1,1171.3 L478.9,1169.8 L483.7,1170.3 L488.5,1173.0 L493.3,1171.3 L498.1,1173.8 L502.9,1174.0 L507.7,1174.3 L513.6,1174.6 L519.4,1179.3 L525.4,1178.1 L531.3,1178.2 L537.3,1178.9 L542.3,1182.1 L547.3,1178.9 L552.3,1179.2 L557.3,1179.7 L562.3,1181.7 L567.3,1182.2 L572.3,1182.4 L578.2,1178.6 L584.2,1177.0 L590.1,1175.5 L596.1,1177.5 L602.1,1178.8 L607.0,1174.6 L612.0,1172.2 L617.0,1171.2 L622.1,1170.5 L627.1,1171.5 L632.1,1172.4 L637.1,1170.7 L643.0,1167.6 L648.8,1167.7 L654.6,1166.5 L659.4,1166.4 L664.2,1167.9 L669.0,1166.6 L674.8,1164.2 L680.6,1162.9 L686.5,1162.1 L692.4,1157.4 L698.3,1159.4 L704.2,1159.3 L710.1,1159.4 L716.0,1158.6 L720.9,1155.4 L725.8,1153.3 L730.8,1150.1 L735.7,1151.1 L740.7,1147.9 L745.6,1145.8 L750.5,1145.2 L755.5,1144.3 L760.4,1144.5 L765.4,1142.6 L770.4,1140.9 L775.3,1140.5 L780.3,1139.7 L785.2,1140.6 L790.2,1138.6 L795.1,1142.4 L800.1,1142.5 L805.0,1139.5 L810.0,1138.1 L814.9,1137.6 L819.9,1137.1 L824.8,1135.0 L829.8,1137.9 L834.7,1140.0 L839.7,1137.7 L844.6,1136.1 L849.6,1132.6 L854.5,1130.4 L859.5,1130.2 L864.4,1129.4 L869.3,1131.9 L874.3,1129.0 L879.2,1126.2 L884.2,1129.9 L889.1,1129.0 L894.1,1125.9 L899.0,1126.2 L903.9,1123.0 L908.9,1123.8 L913.8,1126.7 L918.8,1127.2 L923.7,1126.1 L928.7,1122.6 L933.6,1120.9 L938.6,1118.5 L943.5,1120.4 L948.4,1119.7 L953.4,1120.5 L958.3,1117.8 L963.3,1115.4 L968.2,1117.3 L973.2,1119.0 L978.1,1118.8 L983.1,1118.0 L988.0,1117.4 L992.9,1116.2 L997.9,1112.1 L1002.8,1111.3 L1007.8,1109.5 L1012.7,1106.2 L1017.7,1104.1 L1022.6,1104.1 L1027.6,1103.6 L1032.5,1105.6 L1037.4,1107.9 L1042.4,1105.8 L1047.3,1107.3 L1052.3,1108.0 L1057.2,1107.9 L1062.2,1103.9 L1067.1,1100.6 L1072.1,1098.4 L1077.0,1096.7 L1082.0,1095.5 L1086.9,1097.0 L1091.8,1099.1 L1096.8,1099.6 L1101.7,1097.3 L1106.7,1096.8 L1111.6,1097.0 L1116.6,1092.5 L1121.5,1093.2 L1126.5,1094.7 L1131.4,1094.4 L1136.4,1093.7 L1141.3,1091.4 L1146.2,1087.9 L1151.2,1089.4 L1156.1,1087.1 L1161.1,1088.3 L1166.0,1089.7 L1171.0,1086.6 L1175.9,1084.6 L1180.9,1086.5 L1185.8,1085.8 L1190.8,1081.8 L1195.7,1078.9 L1200.7,1077.2 L1205.6,1080.4 L1210.5,1081.3 L1215.5,1077.4 L1220.4,1079.0 L1225.4,1080.5 L1230.3,1079.1 L1235.3,1076.1 L1240.2,1075.3 L1245.2,1072.0 L1250.1,1069.1 L1255.1,1073.0 L1260.0,1072.8 L1264.9,1071.7 L1269.9,1073.1 L1274.8,1070.6 L1279.8,1071.5 L1284.7,1071.3 L1289.7,1067.2 L1294.6,1064.9 L1299.6,1063.5 L1304.5,1062.1 L1309.5,1063.0 L1314.4,1061.3 L1319.3,1060.9 L1324.3,1058.6 L1329.2,1061.7 L1334.2,1059.7 L1339.1,1058.9 L1344.1,1058.9 L1349.0,1060.5 L1354.0,1058.1 L1358.9,1059.4 L1363.9,1057.3 L1368.8,1056.0 L1373.7,1054.9 L1378.7,1050.9 L1383.6,1050.9 L1388.6,1049.0 L1393.5,1046.6 L1398.5,1049.7 L1403.4,1047.2 L1408.4,1047.4 L1413.3,1048.6 L1418.3,1048.0 L1423.2,1045.9 L1428.1,1045.5 L1433.1,1045.2 L1438.0,1046.1 L1443.0,1042.2 L1447.9,1042.4 L1452.9,1040.3 L1457.8,1039.0 L1462.8,1040.9 L1467.7,1040.0 L1472.7,1039.5 L1477.6,1040.1 L1482.5,1041.0 L1487.5,1038.3 L1492.4,1037.5 L1497.4,1036.1 L1502.3,1035.0 L1507.3,1035.1 L1512.2,1033.4 L1517.2,1032.7 L1522.1,1031.5 L1527.1,1033.4 L1532.0,1032.6 L1536.9,1032.9 L1541.9,1033.1 L1546.8,1028.8 L1551.8,1027.8 L1556.7,1029.3 L1561.7,1029.1 L1566.6,1024.5 L1571.6,1021.5 L1576.5,1021.4 L1581.5,1018.9 L1586.4,1018.1 L1591.3,1016.3 L1596.3,1018.6 L1601.2,1020.2 L1606.2,1021.4 L1611.1,1017.3 L1616.1,1018.0 L1621.0,1017.8 L1626.0,1014.2 L1630.9,1016.3 L1635.9,1017.6 L1640.8,1013.5 L1645.7,1015.3 L1650.7,1012.7 L1655.6,1011.4 L1660.6,1013.4 L1665.5,1013.2 L1670.5,1008.7 L1675.4,1007.5 L1680.4,1007.0 L1685.3,1005.3 L1690.2,1003.2 L1695.2,1002.5 L1700.1,1004.1 L1705.1,1000.5 L1710.0,1001.3 L1715.0,1000.8 L1719.9,997.6 L1724.9,997.4 L1729.8,998.7 L1734.8,998.4 L1739.7,995.2 L1744.6,998.6 L1749.6,999.0 L1754.5,999.9 L1759.5,994.9 L1764.4,992.8 L1769.4,989.9 L1774.3,992.4 L1779.3,990.4 L1784.2,988.1 L1789.2,988.3 L1794.1,991.0 L1799.0,991.5 L1804.0,988.1 L1808.9,985.3 L1813.9,988.0 L1818.8,987.0 L1823.8,987.0 L1828.7,982.9 L1833.7,980.1 L1838.6,982.1 L1843.5,981.2 L1848.5,978.3 L1853.4,981.5 L1858.4,981.1 L1863.3,981.6 L1868.3,977.2 L1873.2,979.0 L1878.2,975.0 L1883.1,977.2 L1888.1,975.6 L1893.0,973.7 L1897.9,973.6 L1902.9,975.5 L1907.8,972.2 L1912.8,969.2 L1917.7,969.6 L1922.7,967.7 L1927.6,965.6 L1932.6,964.4 L1937.5,962.7 L1942.4,962.4 L1947.4,962.5 L1952.3,962.2 L1957.3,964.4 L1962.2,962.5 L1967.2,962.3 L1972.1,960.0 L1977.1,959.3 L1981.0,956.8" fill="none" stroke="#008080" stroke-width="10.5" stroke-linejoin="round" stroke-linecap="round" />
<path d="M420.3,1137.3 L424.2,1140.3 L428.2,1142.6 L432.2,1147.5 L437.0,1152.7 L442.0,1154.2 L447.0,1157.4 L452.2,1156.7 L457.5,1161.3 L462.9,1164.3 L468.5,1169.0 L474.1,1171.3 L478.9,1169.8 L483.7,1170.3 L488.5,1173.0 L493.3,1171.3 L498.1,1173.8 L502.9,1174.0 L507.7,1174.3 L513.6,1174.6 L519.4,1179.3 L525.4,1178.1 L531.3,1178.2 L537.3,1178.9 L542.3,1182.1 L547.3,1178.9 L552.3,1179.2 L557.3,1179.7 L562.3,1181.7 L567.3,1182.2 L572.3,1182.4 L578.2,1178.6 L584.2,1177.0 L590.1,1175.5 L596.1,1177.5 L602.1,1178.8 L607.0,1174.6 L612.0,1172.2 L617.0,1171.2 L622.1,1170.5 L627.1,1171.5 L632.1,1172.4 L637.1,1170.7 L643.0,1167.6 L648.8,1167.7 L654.6,1166.5 L659.4,1166.4 L664.2,1167.9 L669.0,1166.6 L674.8,1164.2 L680.6,1162.9 L686.5,1162.1 L692.4,1157.4 L698.3,1159.4 L704.2,1159.3 L710.1,1159.4 L716.0,1158.6 L720.9,1155.4 L725.8,1153.3 L730.8,1150.1 L735.7,1151.1 L740.7,1147.9 L745.6,1145.8 L750.5,1145.2 L755.5,1144.3 L760.4,1144.5 L765.4,1142.6 L770.4,1140.9 L775.3,1140.5 L780.3,1139.7 L785.2,1140.6 L790.2,1138.6 L795.1,1142.4 L800.1,1142.5 L805.0,1139.5 L810.0,1138.1 L814.9,1137.6 L819.9,1137.1 L824.8,1135.0 L829.8,1137.9 L834.7,1140.0 L839.7,1137.7 L844.6,1136.1 L849.6,1132.6 L854.5,1130.4 L859.5,1130.2 L864.4,1129.4 L869.3,1131.9 L874.3,1129.0 L879.2,1126.2 L884.2,1129.9 L889.1,1129.0 L894.1,1125.9 L899.0,1126.2 L903.9,1123.0 L908.9,1123.8 L913.8,1126.7 L918.8,1127.2 L923.7,1126.1 L928.7,1122.6 L933.6,1120.9 L938.6,1118.5 L943.5,1120.4 L948.4,1119.7 L953.4,1120.5 L958.3,1117.8 L963.3,1115.4 L968.2,1117.3 L973.2,1119.0 L978.1,1118.8 L983.1,1118.0 L988.0,1117.4 L992.9,1116.2 L997.9,1112.1 L1002.8,1111.3 L1007.8,1109.5 L1012.7,1106.2 L1017.7,1104.1 L1022.6,1104.1 L1027.6,1103.6 L1032.5,1105.6 L1037.4,1107.9 L1042.4,1105.8 L1047.3,1107.3 L1052.3,1108.0 L1057.2,1107.9 L1062.2,1103.9 L1067.1,1100.6 L1072.1,1098.4 L1077.0,1096.7 L1082.0,1095.5 L1086.9,1097.0 L1091.8,1099.1 L1096.8,1099.6 L1101.7,1097.3 L1106.7,1096.8 L1111.6,1097.0 L1116.6,1092.5 L1121.5,1093.2 L1126.5,1094.7 L1131.4,1094.4 L1136.4,1093.7 L1141.3,1091.4 L1146.2,1087.9 L1151.2,1089.4 L1156.1,1087.1 L1161.1,1088.3 L1166.0,1089.7 L1171.0,1086.6 L1175.9,1084.6 L1180.9,1086.5 L1185.8,1085.8 L1190.8,1081.8 L1195.7,1078.9 L1200.7,1077.2 L1205.6,1080.4 L1210.5,1081.3 L1215.5,1077.4 L1220.4,1079.0 L1225.4,1080.5 L1230.3,1079.1 L1235.3,1076.1 L1240.2,1075.3 L1245.2,1072.0 L1250.1,1069.1 L1255.1,1073.0 L1260.0,1072.8 L1264.9,1071.7 L1269.9,1073.1 L1274.8,1070.6 L1279.8,1071.5 L1284.7,1071.3 L1289.7,1067.2 L1294.6,1064.9 L1299.6,1063.5 L1304.5,1062.1 L1309.5,1063.0 L1314.4,1061.3 L1319.3,1060.9 L1324.3,1058.6 L1329.2,1061.7 L1334.2,1059.7 L1339.1,1058.9 L1344.1,1058.9 L1349.0,1060.5 L1354.0,1058.1 L1358.9,1059.4 L1363.9,1057.3 L1368.8,1056.0 L1373.7,1054.9 L1378.7,1050.9 L1383.6,1050.9 L1388.6,1049.0 L1393.5,1046.6 L1398.5,1049.7 L1403.4,1047.2 L1408.4,1047.4 L1413.3,1048.6 L1418.3,1048.0 L1423.2,1045.9 L1428.1,1045.5 L1433.1,1045.2 L1438.0,1046.1 L1443.0,1042.2 L1447.9,1042.4 L1452.9,1040.3 L1457.8,1039.0 L1462.8,1040.9 L1467.7,1040.0 L1472.7,1039.5 L1477.6,1040.1 L1482.5,1041.0 L1487.5,1038.3 L1492.4,1037.5 L1497.4,1036.1 L1502.3,1035.0 L1507.3,1035.1 L1512.2,1033.4 L1517.2,1032.7 L1522.1,1031.5 L1527.1,1033.4 L1532.0,1032.6 L1536.9,1032.9 L1541.9,1033.1 L1546.8,1028.8 L1551.8,1027.8 L1556.7,1029.3 L1561.7,1029.1 L1566.6,1024.5 L1571.6,1021.5 L1576.5,1021.4 L1581.5,1018.9 L1586.4,1018.1 L1591.3,1016.3 L1596.3,1018.6 L1601.2,1020.2 L1606.2,1021.4 L1611.1,1017.3 L1616.1,1018.0 L1621.0,1017.8 L1626.0,1014.2 L1630.9,1016.3 L1635.9,1017.6 L1640.8,1013.5 L1645.7,1015.3 L1650.7,1012.7 L1655.6,1011.4 L1660.6,1013.4 L1665.5,1013.2 L1670.5,1008.7 L1675.4,1007.5 L1680.4,1007.0 L1685.3,1005.3 L1690.2,1003.2 L1695.2,1002.5 L1700.1,1004.1 L1705.1,1000.5 L1710.0,1001.3 L1715.0,1000.8 L1719.9,997.6 L1724.9,997.4 L1729.8,998.7 L1734.8,998.4 L1739.7,995.2 L1744.6,998.6 L1749.6,999.0 L1754.5,999.9 L1759.5,994.9 L1764.4,992.8 L1769.4,989.9 L1774.3,992.4 L1779.3,990.4 L1784.2,988.1 L1789.2,988.3 L1794.1,991.0 L1799.0,991.5 L1804.0,988.1 L1808.9,985.3 L1813.9,988.0 L1818.8,987.0 L1823.8,987.0 L1828.7,982.9 L1833.7,980.1 L1838.6,982.1 L1843.5,981.2 L1848.5,978.3 L1853.4,981.5 L1858.4,981.1 L1863.3,981.6 L1868.3,977.2 L1873.2,979.0 L1878.2,975.0 L1883.1,977.2 L1888.1,975.6 L1893.0,973.7 L1897.9,973.6 L1902.9,975.5 L1907.8,972.2 L1912.8,969.2 L1917.7,969.6 L1922.7,967.7 L1927.6,965.6 L1932.6,964.4 L1937.5,962.7 L1942.4,962.4 L1947.4,962.5 L1952.3,962.2 L1957.3,964.4 L1962.2,962.5 L1967.2,962.3 L1972.1,960.0 L1977.1,959.3 L1981.0,956.8" fill="none" stroke="#008080" stroke-width="15.5" stroke-linejoin="round" stroke-linecap="round" />
</g>
<line x1="689.0" y1="1161.5" x2="1992.0" y2="961.0" stroke="#FFFF00" stroke-width="5.5" stroke-dasharray="14 8.5"/>
<g clip-path="url(#mainclip)">
<path d="M314.1,278.8 L316.0,279.0 L318.0,279.3 L319.9,279.5 L321.9,279.8 L323.9,280.0 L325.8,280.2 L327.8,280.4 L329.8,280.6 L331.7,280.7 L333.7,280.9 L335.7,281.0 L337.7,281.2 L339.7,281.3 L341.7,281.4 L343.7,281.5 L345.7,281.6 L347.7,281.7 L349.7,281.8 L351.7,281.9 L353.7,282.0 L355.7,282.1 L357.7,282.1 L359.7,282.2 L361.7,282.2 L363.7,282.3 L365.8,282.4 L367.8,282.4 L369.8,282.5 L371.8,282.5 L373.8,282.5 L375.8,282.6 L377.9,282.6 L379.9,282.7 L381.9,282.7 L383.9,282.8 L386.0,282.8 L388.0,282.9 L390.0,282.9 L392.0,283.0 L394.0,283.0 L396.1,283.1 L398.1,283.1 L400.1,283.2 L402.1,283.3 L404.1,283.3 L406.2,283.4 L408.2,283.5 L410.2,283.6 L412.2,283.7 L414.2,283.8 L416.2,283.9 L418.2,284.0 L420.2,284.2 L422.2,284.3 L424.2,284.5 L426.2,284.6 L428.2,284.8 L430.2,285.0 L432.2,285.2 L434.2,285.4 L436.2,285.6 L438.2,285.8 L440.2,286.1 L442.2,286.3 L444.1,286.6 L446.1,286.9 L448.1,287.2 L450.0,287.5 L452.0,287.8 L454.0,288.2 L455.9,288.6 L457.9,288.9 L459.8,289.3 L461.8,289.8 L463.7,290.2 L465.6,290.7 L467.6,291.1 L469.5,291.6 L471.4,292.1 L473.3,292.7 L475.2,293.2 L477.1,293.8 L479.0,294.4 L480.9,295.0 L482.8,295.6 L484.7,296.3 L486.5,297.0 L488.4,297.7 L490.2,298.4 L492.1,299.1 L493.9,299.9 L495.7,300.7 L497.6,301.5 L499.4,302.3 L501.2,303.2 L502.9,304.1 L504.7,305.0 L506.5,305.9 L508.2,306.9 L510.0,307.8 L511.7,308.8 L513.4,309.8 L515.2,310.9 L516.9,312.0 L518.5,313.0 L520.2,314.2 L521.9,315.3 L523.5,316.5 L525.1,317.7 L526.8,318.9 L528.4,320.1 L530.0,321.4 L531.5,322.7 L533.1,323.9 L534.7,325.3 L536.2,326.6 L537.7,327.9 L539.2,329.3 L540.7,330.6 L542.2,332.0 L543.6,333.4 L545.0,334.8 L546.5,336.2 L547.9,337.7 L549.3,339.1 L550.6,340.6 L552.0,342.0 L553.3,343.5 L554.7,345.0 L556.0,346.5 L557.3,348.0 L558.6,349.5 L559.9,351.0 L561.1,352.6 L562.4,354.1 L563.6,355.7 L564.9,357.2 L566.1,358.8 L567.3,360.4 L568.5,362.0 L569.6,363.6 L570.8,365.2 L572.0,366.8 L573.1,368.4 L574.3,370.0 L575.4,371.7 L576.5,373.3 L577.6,375.0 L578.7,376.6 L579.8,378.3 L580.9,380.0 L581.9,381.7 L583.0,383.4 L584.0,385.1 L585.1,386.8 L586.1,388.5 L587.1,390.2 L588.1,391.9 L589.2,393.6 L590.2,395.3 L591.2,397.1 L592.1,398.8 L593.1,400.6 L594.1,402.3 L595.1,404.1 L596.0,405.8 L597.0,407.6 L598.0,409.3 L598.9,411.1 L599.8,412.9 L600.8,414.7 L601.7,416.4 L602.6,418.2 L603.6,420.0 L604.5,421.8 L605.4,423.6 L606.3,425.4 L607.2,427.2 L608.1,429.0 L609.0,430.8 L609.9,432.6 L610.8,434.4 L611.7,436.2 L612.6,438.0 L613.5,439.8 L614.4,441.6 L615.3,443.4 L616.2,445.2 L617.1,447.0 L618.0,448.8 L618.9,450.6 L619.8,452.4 L620.7,454.2 L621.6,456.0 L622.4,457.8 L623.3,459.6 L624.2,461.4 L625.1,463.2 L626.0,465.0 L626.9,466.8 L627.8,468.6 L628.7,470.4 L629.6,472.2 L630.5,474.0 L631.4,475.8 L632.3,477.6 L633.2,479.4 L634.1,481.2 L635.0,483.0 L635.9,484.8 L636.8,486.6 L637.7,488.4 L638.6,490.2 L639.5,491.9 L640.4,493.7 L641.3,495.5 L642.2,497.3 L643.1,499.1 L644.0,500.9 L644.9,502.7 L645.8,504.5 L646.7,506.2 L647.6,508.0 L648.5,509.8 L649.4,511.6 L650.3,513.4 L651.2,515.2 L652.1,516.9 L653.0,518.7 L653.9,520.5 L654.8,522.3 L655.7,524.1 L656.7,525.9 L657.6,527.6 L658.5,529.4 L659.4,531.2 L660.3,533.0 L661.2,534.8 L662.1,536.5 L663.0,538.3 L663.9,540.1 L664.8,541.9 L665.8,543.6 L666.7,545.4 L667.6,547.2 L668.5,549.0 L669.4,550.7 L670.3,552.5 L671.2,554.3 L672.2,556.1 L673.1,557.8 L674.0,559.6 L674.9,561.4 L675.8,563.2 L676.7,564.9 L677.7,566.7 L678.6,568.5 L679.5,570.3 L680.4,572.0 L681.3,573.8 L682.2,575.6 L683.2,577.4 L684.1,579.1 L685.0,580.9 L685.9,582.7 L686.8,584.5 L687.8,586.2 L688.7,588.0 L689.6,589.8 L690.5,591.5 L691.4,593.3 L692.4,595.1 L693.3,596.9 L694.2,598.6 L695.1,600.4 L696.1,602.2 L697.0,604.0 L697.9,605.7 L698.8,607.5 L699.7,609.3 L700.7,611.0 L701.6,612.8 L702.5,614.6 L703.4,616.4 L704.4,618.1 L705.3,619.9 L706.2,621.7 L707.1,623.5 L708.1,625.2 L709.0,627.0 L709.9,628.8 L710.8,630.6 L711.8,632.3 L712.7,634.1 L713.6,635.9 L714.6,637.7 L715.5,639.4 L716.4,641.2 L717.3,643.0 L718.3,644.8 L719.2,646.5 L720.1,648.3 L721.0,650.1 L722.0,651.9 L722.9,653.6 L723.8,655.4 L724.8,657.2 L725.7,659.0 L726.6,660.8 L727.5,662.5 L728.5,664.3 L729.4,666.1 L730.3,667.9 L731.3,669.7 L732.2,671.4 L733.1,673.2 L734.1,675.0 L735.0,676.8 L736.0,678.5 L736.9,680.3 L737.8,682.1 L738.8,683.9 L739.7,685.6 L740.7,687.4 L741.6,689.2 L742.5,691.0 L743.5,692.7 L744.4,694.5 L745.4,696.3 L746.3,698.0 L747.3,699.8 L748.3,701.6 L749.2,703.3 L750.2,705.1 L751.1,706.9 L752.1,708.6 L753.1,710.4 L754.0,712.1 L755.0,713.9 L756.0,715.7 L757.0,717.4 L757.9,719.2 L758.9,720.9 L759.9,722.7 L760.9,724.4 L761.9,726.2 L762.9,727.9 L763.9,729.7 L764.9,731.4 L765.9,733.1 L766.9,734.9 L767.9,736.6 L768.9,738.3 L769.9,740.1 L770.9,741.8 L772.0,743.5 L773.0,745.2 L774.0,747.0 L775.0,748.7 L776.1,750.4 L777.1,752.1 L778.1,753.8 L779.2,755.5 L780.2,757.2 L781.3,758.9 L782.4,760.6 L783.4,762.3 L784.5,764.0 L785.6,765.7 L786.6,767.4 L787.7,769.1 L788.8,770.8 L789.9,772.4 L791.0,774.1 L792.1,775.8 L793.2,777.5 L794.3,779.1 L795.4,780.8 L796.5,782.4 L797.6,784.1 L798.7,785.7 L799.9,787.4 L801.0,789.0 L802.2,790.7 L803.3,792.3 L804.4,793.9 L805.6,795.6 L806.8,797.2 L807.9,798.8 L809.1,800.4 L810.3,802.0 L811.5,803.7 L812.7,805.3 L813.9,806.9 L815.1,808.5 L816.3,810.0 L817.5,811.6 L818.7,813.2 L819.9,814.8 L821.1,816.4 L822.4,817.9 L823.6,819.5 L824.9,821.1 L826.1,822.6 L827.3,824.2 L828.6,825.8 L829.9,827.3 L831.1,828.9 L832.4,830.4 L833.7,831.9 L835.0,833.5 L836.2,835.0 L837.5,836.5 L838.8,838.1 L840.1,839.6 L841.4,841.1 L842.7,842.6 L844.0,844.2 L845.3,845.7 L846.6,847.2 L848.0,848.7 L849.3,850.2 L850.6,851.7 L851.9,853.2 L853.2,854.7 L854.6,856.2 L855.9,857.7 L857.2,859.2 L858.6,860.7 L859.9,862.2 L861.3,863.7 L862.6,865.1 L864.0,866.6 L865.3,868.1 L866.7,869.6 L868.0,871.1 L869.4,872.5 L870.7,874.0 L872.1,875.5 L873.5,877.0 L874.8,878.4 L876.2,879.9 L877.6,881.4 L878.9,882.8 L880.3,884.3 L881.7,885.8 L883.0,887.2 L884.4,888.7 L885.8,890.2 L887.2,891.6 L888.5,893.1 L889.9,894.5 L891.3,896.0 L892.7,897.4 L894.0,898.9 L895.4,900.4 L896.8,901.8 L898.2,903.3 L899.5,904.7 L900.9,906.2 L902.3,907.6 L903.7,909.1 L905.1,910.6 L906.4,912.0 L907.8,913.5 L909.2,914.9 L910.6,916.4 L911.9,917.8 L913.3,919.3 L914.7,920.7 L916.1,922.2 L917.4,923.7 L918.8,925.1 L920.2,926.6 L921.6,928.0 L922.9,929.5 L924.3,930.9 L925.7,932.4 L927.0,933.9 L928.4,935.3 L929.8,936.8 L931.1,938.2 L932.5,939.7 L933.9,941.1 L935.2,942.6 L936.6,944.1 L938.0,945.5 L939.3,947.0 L940.7,948.5 L942.1,949.9 L943.4,951.4 L944.8,952.8 L946.2,954.3 L947.5,955.8 L948.9,957.2 L950.2,958.7 L951.6,960.2 L952.9,961.6 L954.3,963.1 L955.7,964.6 L957.0,966.0 L958.4,967.5 L959.7,969.0 L961.1,970.5 L962.4,971.9 L963.8,973.4 L965.1,974.9 L966.5,976.4 L967.8,977.8 L969.2,979.3 L970.5,980.8 L971.8,982.3 L973.2,983.8 L974.5,985.2 L975.9,986.7 L977.2,988.2 L978.5,989.7 L979.9,991.2 L981.2,992.7 L982.5,994.2 L983.9,995.7 L985.2,997.2 L986.5,998.7 L987.9,1000.1 L989.2,1001.6 L990.5,1003.1 L991.8,1004.6 L993.2,1006.1 L994.5,1007.7 L995.8,1009.2 L997.1,1010.7 L998.5,1012.2 L999.8,1013.7 L1001.1,1015.2 L1002.4,1016.7 L1003.7,1018.2 L1005.0,1019.7 L1006.3,1021.3 L1007.6,1022.8 L1008.9,1024.3 L1010.2,1025.8 L1011.5,1027.3 L1012.8,1028.9 L1014.1,1030.4 L1015.4,1031.9 L1016.7,1033.5 L1018.0,1035.0 L1019.3,1036.5 L1020.6,1038.1 L1021.9,1039.6 L1023.2,1041.1 L1024.5,1042.7 L1025.8,1044.2 L1027.0,1045.8 L1028.3,1047.3 L1029.6,1048.8 L1030.9,1050.4 L1032.1,1051.9 L1033.4,1053.5 L1034.7,1055.0 L1035.9,1056.6 L1037.2,1058.2 L1038.5,1059.7 L1039.7,1061.3 L1041.0,1062.8 L1042.3,1064.4 L1043.5,1065.9 L1044.8,1067.5 L1046.0,1069.1 L1047.3,1070.6 L1048.5,1072.2 L1049.8,1073.8 L1051.0,1075.3 L1052.2,1076.9 L1053.5,1078.5 L1054.7,1080.1 L1055.9,1081.6 L1057.2,1083.2 L1058.4,1084.8 L1059.6,1086.4 L1060.9,1087.9 L1062.1,1089.5 L1063.3,1091.1 L1064.5,1092.7 L1065.7,1094.3 L1066.9,1095.9 L1068.2,1097.4 L1069.4,1099.0 L1070.6,1100.6 L1071.8,1102.2 L1073.0,1103.8 L1074.2,1105.3 L1075.5,1106.9 L1076.7,1108.5 L1077.9,1110.1 L1079.2,1111.6 L1080.4,1113.2 L1081.6,1114.7 L1082.9,1116.3 L1084.2,1117.8 L1085.4,1119.3 L1086.7,1120.9 L1088.0,1122.4 L1089.3,1123.9 L1090.6,1125.4 L1091.9,1127.0 L1093.2,1128.5 L1094.5,1130.0 L1095.8,1131.5 L1097.1,1133.0 L1098.4,1134.4 L1099.8,1135.9 L1101.1,1137.4 L1102.4,1138.9 L1103.8,1140.4 L1105.1,1141.8 L1106.5,1143.3 L1107.9,1144.8 L1109.2,1146.2 L1110.6,1147.7 L1112.0,1149.1 L1113.3,1150.6 L1114.7,1152.0 L1116.1,1153.5 L1117.5,1154.9 L1118.9,1156.3 L1120.3,1157.8 L1121.7,1159.2 L1123.1,1160.6 L1124.5,1162.1 L1125.9,1163.5 L1127.3,1164.9 L1128.7,1166.3 L1130.1,1167.8 L1131.5,1169.2 L1132.9,1170.6 L1134.4,1172.0 L1135.8,1173.4 L1137.2,1174.8 L1138.6,1176.2 L1140.1,1177.6 L1141.5,1179.1 L1142.9,1180.5 L1144.4,1181.9 L1145.8,1183.3 L1147.2,1184.7 L1148.7,1186.1 L1150.1,1187.5 L1151.5,1188.9 L1153.0,1190.3 L1154.4,1191.7 L1155.9,1193.1 L1157.3,1194.5 L1158.7,1195.9 L1160.2,1197.3 L1161.6,1198.7 L1163.1,1200.0 L1164.5,1201.4 L1166.0,1202.8 L1167.5,1204.2 L1168.9,1205.6 L1170.4,1207.0 L1171.8,1208.3 L1173.3,1209.7 L1174.8,1211.1 L1176.3,1212.4 L1177.7,1213.8 L1179.2,1215.1 L1180.7,1216.5 L1182.2,1217.8 L1183.7,1219.2 L1185.2,1220.5 L1186.7,1221.9 L1188.2,1223.2 L1189.7,1224.5 L1191.2,1225.8 L1192.7,1227.1 L1194.3,1228.4 L1195.8,1229.7 L1197.3,1231.0 L1198.8,1232.3 L1200.4,1233.6 L1201.9,1234.9 L1203.5,1236.1 L1205.0,1237.4 L1206.6,1238.7 L1208.2,1239.9 L1209.7,1241.2 L1211.3,1242.4 L1212.9,1243.6 L1214.5,1244.9 L1216.0,1246.1 L1217.6,1247.3 L1219.2,1248.5 L1220.8,1249.7 L1222.4,1250.9 L1224.0,1252.1 L1225.7,1253.3 L1227.3,1254.5 L1228.9,1255.6 L1230.5,1256.8 L1232.2,1258.0 L1233.8,1259.1 L1235.4,1260.3 L1237.1,1261.4 L1238.7,1262.5 L1240.4,1263.6 L1242.0,1264.7 L1243.7,1265.9 L1245.4,1266.9 L1247.0,1268.0 L1248.7,1269.1 L1250.4,1270.2 L1252.1,1271.3 L1253.8,1272.3 L1255.5,1273.4 L1257.2,1274.4 L1258.9,1275.5 L1260.6,1276.5 L1262.3,1277.5 L1264.0,1278.5 L1265.8,1279.5 L1267.5,1280.5 L1269.2,1281.5 L1271.0,1282.5 L1272.7,1283.4 L1274.5,1284.4 L1276.2,1285.4 L1278.0,1286.3 L1279.7,1287.2 L1281.5,1288.2 L1283.3,1289.1 L1285.1,1290.0 L1286.8,1290.9 L1288.6,1291.8 L1290.4,1292.6 L1292.2,1293.5 L1294.0,1294.4 L1295.8,1295.2 L1297.6,1296.1 L1299.4,1296.9 L1301.3,1297.7 L1303.1,1298.6 L1304.9,1299.4 L1306.8,1300.2 L1308.6,1301.0 L1310.4,1301.7 L1312.3,1302.5 L1314.1,1303.3 L1316.0,1304.0 L1317.9,1304.8 L1319.7,1305.5 L1321.6,1306.3 L1323.4,1307.0 L1325.3,1307.7 L1327.2,1308.4 L1329.1,1309.1 L1331.0,1309.8 L1332.8,1310.5 L1334.7,1311.2 L1336.6,1311.8 L1338.5,1312.5 L1340.4,1313.2 L1342.3,1313.8 L1344.2,1314.5 L1346.1,1315.1 L1348.0,1315.7 L1350.0,1316.3 L1351.9,1317.0 L1353.8,1317.6 L1355.7,1318.2 L1357.6,1318.8 L1359.6,1319.4 L1361.5,1319.9 L1363.4,1320.5 L1365.3,1321.1 L1367.3,1321.6 L1369.2,1322.2 L1371.1,1322.7 L1373.1,1323.3 L1375.0,1323.8 L1377.0,1324.4 L1378.9,1324.9 L1380.8,1325.4 L1382.8,1325.9 L1384.7,1326.4 L1386.7,1326.9 L1388.6,1327.4 L1390.6,1327.9 L1392.5,1328.4 L1394.5,1328.9 L1396.4,1329.4 L1398.4,1329.8 L1400.3,1330.3 L1402.3,1330.8 L1404.2,1331.2 L1406.2,1331.7 L1408.1,1332.1 L1410.1,1332.6 L1412.1,1333.0 L1414.0,1333.4 L1416.0,1333.8 L1417.9,1334.3 L1419.9,1334.7 L1421.8,1335.1 L1423.8,1335.5 L1425.8,1335.9 L1427.7,1336.3 L1429.7,1336.7 L1431.6,1337.1 L1433.6,1337.5 L1435.6,1337.8 L1437.5,1338.2 L1439.5,1338.6 L1441.5,1339.0 L1443.4,1339.3 L1445.4,1339.7 L1447.4,1340.0 L1449.3,1340.4 L1451.3,1340.7 L1453.3,1341.1 L1455.2,1341.4 L1457.2,1341.7 L1459.2,1342.1 L1461.2,1342.4 L1463.1,1342.7 L1465.1,1343.0 L1467.1,1343.3 L1469.0,1343.6 L1471.0,1343.9 L1473.0,1344.2 L1475.0,1344.5 L1476.9,1344.8 L1478.9,1345.1 L1480.9,1345.4 L1482.9,1345.6 L1484.8,1345.9 L1486.8,1346.2 L1488.8,1346.5 L1490.8,1346.7 L1492.8,1347.0 L1494.7,1347.2 L1496.7,1347.5 L1498.7,1347.7 L1500.7,1348.0 L1502.7,1348.2 L1504.6,1348.5 L1506.6,1348.7 L1508.6,1348.9 L1510.6,1349.1 L1512.6,1349.4 L1514.6,1349.6 L1516.5,1349.8 L1518.5,1350.0 L1520.5,1350.2 L1522.5,1350.4 L1524.5,1350.6 L1526.5,1350.8 L1528.5,1351.0 L1530.4,1351.2 L1532.4,1351.4 L1534.4,1351.6 L1536.4,1351.8 L1538.4,1352.0 L1540.4,1352.1 L1542.4,1352.3 L1544.4,1352.5 L1546.4,1352.6 L1548.4,1352.8 L1550.3,1353.0 L1552.3,1353.1 L1554.3,1353.3 L1556.3,1353.4 L1558.3,1353.6 L1560.3,1353.7 L1562.3,1353.9 L1564.3,1354.0 L1566.3,1354.2 L1568.3,1354.3 L1570.3,1354.4 L1572.3,1354.6 L1574.3,1354.7 L1576.3,1354.8 L1578.3,1355.0 L1580.3,1355.1 L1582.3,1355.2 L1584.3,1355.3 L1586.3,1355.4 L1588.3,1355.5 L1590.2,1355.6 L1592.2,1355.7 L1594.2,1355.9 L1596.2,1356.0 L1598.2,1356.1 L1600.2,1356.2 L1602.2,1356.3 L1604.2,1356.3 L1606.2,1356.4 L1608.2,1356.5 L1610.2,1356.6 L1612.2,1356.7 L1614.2,1356.8 L1616.3,1356.9 L1618.3,1356.9 L1620.3,1357.0 L1622.3,1357.1 L1624.3,1357.2 L1626.3,1357.2 L1628.3,1357.3 L1630.3,1357.4 L1632.3,1357.4 L1634.3,1357.5 L1636.3,1357.6 L1638.3,1357.6 L1640.3,1357.7 L1642.3,1357.7 L1644.3,1357.8 L1646.3,1357.9 L1648.3,1357.9 L1650.3,1358.0 L1652.3,1358.0 L1654.3,1358.1 L1656.3,1358.1 L1658.3,1358.1 L1660.3,1358.2 L1662.4,1358.2 L1664.4,1358.3 L1666.4,1358.3 L1668.4,1358.4 L1670.4,1358.4 L1672.4,1358.4 L1674.4,1358.5 L1676.4,1358.5 L1678.4,1358.5 L1680.4,1358.6 L1682.4,1358.6 L1684.4,1358.6 L1686.4,1358.7 L1688.5,1358.7 L1690.5,1358.7 L1692.5,1358.7 L1694.5,1358.8 L1696.5,1358.8 L1698.5,1358.8 L1700.5,1358.8 L1702.5,1358.8 L1704.5,1358.9 L1706.5,1358.9 L1708.5,1358.9 L1710.6,1358.9 L1712.6,1358.9 L1714.6,1359.0 L1716.6,1359.0 L1718.6,1359.0 L1720.6,1359.0 L1722.6,1359.0 L1724.6,1359.0 L1726.6,1359.1 L1728.6,1359.1 L1730.7,1359.1 L1732.7,1359.1 L1734.7,1359.1 L1736.7,1359.1 L1738.7,1359.1 L1740.7,1359.1 L1742.7,1359.2 L1744.7,1359.2 L1746.7,1359.2 L1748.7,1359.2 L1750.8,1359.2 L1752.8,1359.2 L1754.8,1359.2 L1756.8,1359.2 L1758.8,1359.2 L1760.8,1359.3 L1762.8,1359.3 L1764.8,1359.3 L1766.8,1359.3 L1768.8,1359.3 L1770.9,1359.3 L1772.9,1359.3 L1774.9,1359.3 L1776.9,1359.3 L1778.9,1359.4 L1780.9,1359.4 L1782.9,1359.4 L1784.9,1359.4 L1786.9,1359.4 L1788.9,1359.4 L1791.0,1359.4 L1793.0,1359.5 L1795.0,1359.5 L1797.0,1359.5 L1799.0,1359.5 L1801.0,1359.5 L1803.0,1359.5 L1805.0,1359.6 L1807.0,1359.6 L1809.0,1359.6 L1811.0,1359.6 L1813.1,1359.6 L1815.1,1359.7 L1817.1,1359.7 L1819.1,1359.7 L1821.1,1359.7 L1823.1,1359.8 L1825.1,1359.8 L1827.1,1359.8 L1829.1,1359.9 L1831.1,1359.9 L1833.1,1359.9 L1835.1,1359.9 L1837.1,1360.0 L1839.1,1360.0 L1841.2,1360.1 L1843.2,1360.1 L1845.2,1360.1 L1847.2,1360.2 L1849.2,1360.2 L1851.2,1360.2 L1853.2,1360.3 L1855.2,1360.3 L1857.2,1360.4 L1859.2,1360.4 L1861.2,1360.5 L1863.2,1360.5 L1865.2,1360.6 L1867.2,1360.6 L1869.2,1360.7 L1871.2,1360.7 L1873.2,1360.8 L1875.2,1360.9 L1877.2,1360.9 L1879.2,1361.0 L1881.2,1361.1 L1883.2,1361.1 L1885.2,1361.2 L1887.2,1361.3 L1889.2,1361.3 L1891.2,1361.4 L1893.3,1361.5 L1895.3,1361.6 L1897.3,1361.6 L1899.3,1361.7 L1901.3,1361.8 L1903.3,1361.9 L1905.2,1362.0 L1907.2,1362.1 L1909.2,1362.2 L1911.2,1362.2 L1913.2,1362.3 L1915.2,1362.4 L1917.2,1362.5 L1919.2,1362.6 L1921.2,1362.8 L1923.2,1362.9 L1925.2,1363.0 L1927.2,1363.1 L1929.2,1363.2 L1931.2,1363.3 L1933.2,1363.4 L1935.2,1363.6 L1937.2,1363.7 L1939.2,1363.8 L1941.2,1363.9 L1943.2,1364.1 L1945.2,1364.2 L1947.2,1364.3 L1949.1,1364.5 L1951.1,1364.6 L1953.1,1364.8 L1955.1,1364.9 L1957.1,1365.1 L1959.1,1365.2 L1961.1,1365.4 L1963.1,1365.5 L1965.1,1365.7 L1967.1,1365.9 L1969.0,1366.0 L1971.0,1366.2 L1973.0,1366.4 L1975.0,1366.6 L1977.0,1366.8 L1979.0,1366.9 L1981.0,1367.1" fill="none" stroke="#808080" stroke-width="11" stroke-linejoin="round" stroke-linecap="round" />
<path d="M314.3,655.0 L316.3,655.2 L318.2,655.5 L320.1,655.8 L322.0,656.0 L324.0,656.3 L325.9,656.6 L327.9,656.9 L329.8,657.2 L331.7,657.5 L333.7,657.8 L335.6,658.0 L337.6,658.3 L339.5,658.6 L341.5,659.0 L343.4,659.3 L345.4,659.6 L347.4,659.9 L349.3,660.2 L351.3,660.5 L353.3,660.8 L355.2,661.2 L357.2,661.5 L359.2,661.8 L361.1,662.2 L363.1,662.5 L365.1,662.9 L367.0,663.2 L369.0,663.6 L371.0,663.9 L373.0,664.3 L374.9,664.7 L376.9,665.1 L378.9,665.4 L380.8,665.8 L382.8,666.2 L384.8,666.6 L386.8,667.0 L388.7,667.4 L390.7,667.8 L392.7,668.2 L394.7,668.6 L396.6,669.1 L398.6,669.5 L400.6,669.9 L402.6,670.4 L404.5,670.8 L406.5,671.3 L408.5,671.7 L410.4,672.2 L412.4,672.7 L414.4,673.1 L416.3,673.6 L418.3,674.1 L420.3,674.6 L422.2,675.1 L424.2,675.6 L426.1,676.1 L428.1,676.6 L430.0,677.2 L432.0,677.7 L433.9,678.2 L435.9,678.8 L437.8,679.3 L439.8,679.9 L441.7,680.5 L443.6,681.0 L445.6,681.6 L447.5,682.2 L449.4,682.8 L451.4,683.4 L453.3,684.0 L455.2,684.7 L457.1,685.3 L459.0,685.9 L460.9,686.6 L462.8,687.2 L464.7,687.9 L466.6,688.5 L468.5,689.2 L470.4,689.9 L472.3,690.6 L474.2,691.3 L476.1,692.0 L478.0,692.7 L479.8,693.4 L481.7,694.2 L483.6,694.9 L485.4,695.7 L487.3,696.4 L489.1,697.2 L491.0,698.0 L492.8,698.8 L494.6,699.6 L496.5,700.4 L498.3,701.2 L500.1,702.0 L501.9,702.8 L503.7,703.7 L505.5,704.5 L507.3,705.4 L509.1,706.3 L510.9,707.2 L512.7,708.1 L514.5,709.0 L516.3,709.9 L518.0,710.8 L519.8,711.7 L521.5,712.7 L523.3,713.6 L525.0,714.6 L526.8,715.6 L528.5,716.6 L530.2,717.6 L531.9,718.6 L533.6,719.6 L535.3,720.6 L537.0,721.7 L538.7,722.7 L540.4,723.8 L542.1,724.9 L543.7,725.9 L545.4,727.0 L547.0,728.1 L548.7,729.3 L550.3,730.4 L552.0,731.5 L553.6,732.7 L555.2,733.8 L556.8,735.0 L558.4,736.2 L560.0,737.4 L561.6,738.6 L563.2,739.8 L564.8,741.0 L566.3,742.2 L567.9,743.4 L569.5,744.7 L571.0,745.9 L572.6,747.2 L574.1,748.4 L575.6,749.7 L577.2,751.0 L578.7,752.3 L580.2,753.6 L581.7,754.9 L583.2,756.2 L584.7,757.6 L586.2,758.9 L587.7,760.2 L589.2,761.6 L590.6,763.0 L592.1,764.3 L593.6,765.7 L595.0,767.1 L596.5,768.5 L597.9,769.9 L599.3,771.3 L600.8,772.7 L602.2,774.1 L603.6,775.5 L605.0,777.0 L606.4,778.4 L607.8,779.8 L609.2,781.3 L610.6,782.7 L611.9,784.2 L613.3,785.7 L614.7,787.2 L616.0,788.6 L617.4,790.1 L618.7,791.6 L620.1,793.1 L621.4,794.6 L622.7,796.1 L624.1,797.7 L625.4,799.2 L626.7,800.7 L628.0,802.2 L629.3,803.8 L630.6,805.3 L631.9,806.9 L633.2,808.4 L634.4,810.0 L635.7,811.5 L637.0,813.1 L638.2,814.7 L639.5,816.2 L640.7,817.8 L642.0,819.4 L643.2,821.0 L644.5,822.6 L645.7,824.2 L646.9,825.8 L648.1,827.4 L649.3,829.0 L650.5,830.6 L651.7,832.2 L652.9,833.8 L654.1,835.5 L655.3,837.1 L656.5,838.7 L657.6,840.3 L658.8,842.0 L659.9,843.6 L661.1,845.2 L662.2,846.9 L663.4,848.5 L664.5,850.2 L665.7,851.8 L666.8,853.5 L667.9,855.1 L669.0,856.8 L670.1,858.4 L671.3,860.1 L672.4,861.7 L673.5,863.4 L674.6,865.1 L675.6,866.8 L676.7,868.4 L677.8,870.1 L678.9,871.8 L680.0,873.5 L681.0,875.1 L682.1,876.8 L683.2,878.5 L684.2,880.2 L685.3,881.9 L686.3,883.6 L687.4,885.3 L688.4,887.0 L689.4,888.7 L690.5,890.4 L691.5,892.1 L692.5,893.8 L693.6,895.5 L694.6,897.2 L695.6,898.9 L696.6,900.7 L697.6,902.4 L698.6,904.1 L699.6,905.8 L700.6,907.5 L701.6,909.3 L702.6,911.0 L703.6,912.7 L704.6,914.5 L705.6,916.2 L706.6,917.9 L707.6,919.7 L708.6,921.4 L709.5,923.1 L710.5,924.9 L711.5,926.6 L712.5,928.4 L713.4,930.1 L714.4,931.8 L715.4,933.6 L716.3,935.3 L717.3,937.1 L718.3,938.8 L719.2,940.6 L720.2,942.4 L721.1,944.1 L722.1,945.9 L723.0,947.6 L724.0,949.4 L724.9,951.1 L725.9,952.9 L726.8,954.7 L727.8,956.4 L728.7,958.2 L729.7,960.0 L730.6,961.7 L731.6,963.5 L732.5,965.3 L733.4,967.1 L734.4,968.8 L735.3,970.6 L736.3,972.4 L737.2,974.1 L738.1,975.9 L739.1,977.7 L740.0,979.5 L740.9,981.3 L741.9,983.0 L742.8,984.8 L743.8,986.6 L744.7,988.4 L745.6,990.1 L746.6,991.9 L747.5,993.7 L748.5,995.5 L749.4,997.3 L750.3,999.0 L751.3,1000.8 L752.2,1002.6 L753.2,1004.4 L754.1,1006.2 L755.1,1007.9 L756.0,1009.7 L757.0,1011.5 L757.9,1013.3 L758.9,1015.0 L759.8,1016.8 L760.8,1018.6 L761.7,1020.3 L762.7,1022.1 L763.7,1023.9 L764.6,1025.6 L765.6,1027.4 L766.6,1029.2 L767.5,1030.9 L768.5,1032.7 L769.5,1034.4 L770.5,1036.2 L771.5,1038.0 L772.5,1039.7 L773.5,1041.5 L774.4,1043.2 L775.4,1044.9 L776.5,1046.7 L777.5,1048.4 L778.5,1050.2 L779.5,1051.9 L780.5,1053.6 L781.5,1055.3 L782.5,1057.1 L783.6,1058.8 L784.6,1060.5 L785.7,1062.2 L786.7,1063.9 L787.7,1065.6 L788.8,1067.3 L789.9,1069.0 L790.9,1070.7 L792.0,1072.4 L793.1,1074.1 L794.1,1075.8 L795.2,1077.5 L796.3,1079.2 L797.4,1080.8 L798.5,1082.5 L799.6,1084.2 L800.7,1085.8 L801.9,1087.5 L803.0,1089.1 L804.1,1090.8 L805.2,1092.4 L806.4,1094.0 L807.5,1095.7 L808.7,1097.3 L809.9,1098.9 L811.0,1100.5 L812.2,1102.1 L813.4,1103.8 L814.6,1105.3 L815.8,1106.9 L817.0,1108.5 L818.2,1110.1 L819.4,1111.7 L820.6,1113.3 L821.9,1114.8 L823.1,1116.4 L824.4,1117.9 L825.6,1119.5 L826.9,1121.0 L828.2,1122.5 L829.5,1124.1 L830.8,1125.6 L832.1,1127.1 L833.4,1128.6 L834.7,1130.1 L836.0,1131.6 L837.3,1133.1 L838.7,1134.6 L840.0,1136.0 L841.4,1137.5 L842.8,1138.9 L844.1,1140.4 L845.5,1141.8 L846.9,1143.3 L848.3,1144.7 L849.7,1146.1 L851.1,1147.6 L852.5,1149.0 L854.0,1150.4 L855.4,1151.8 L856.8,1153.1 L858.3,1154.5 L859.7,1155.9 L861.2,1157.3 L862.7,1158.6 L864.1,1160.0 L865.6,1161.3 L867.1,1162.7 L868.6,1164.0 L870.1,1165.3 L871.6,1166.7 L873.1,1168.0 L874.7,1169.3 L876.2,1170.6 L877.7,1171.9 L879.3,1173.1 L880.8,1174.4 L882.4,1175.7 L883.9,1176.9 L885.5,1178.2 L887.1,1179.5 L888.6,1180.7 L890.2,1181.9 L891.8,1183.1 L893.4,1184.4 L895.0,1185.6 L896.6,1186.8 L898.2,1188.0 L899.9,1189.2 L901.5,1190.3 L903.1,1191.5 L904.8,1192.7 L906.4,1193.8 L908.0,1195.0 L909.7,1196.1 L911.3,1197.3 L913.0,1198.4 L914.7,1199.5 L916.3,1200.6 L918.0,1201.7 L919.7,1202.8 L921.4,1203.9 L923.1,1205.0 L924.8,1206.1 L926.5,1207.2 L928.2,1208.2 L929.9,1209.3 L931.6,1210.3 L933.3,1211.4 L935.0,1212.4 L936.7,1213.4 L938.5,1214.4 L940.2,1215.4 L941.9,1216.4 L943.7,1217.4 L945.4,1218.4 L947.2,1219.4 L948.9,1220.4 L950.7,1221.3 L952.5,1222.3 L954.2,1223.2 L956.0,1224.1 L957.8,1225.1 L959.5,1226.0 L961.3,1226.9 L963.1,1227.8 L964.9,1228.7 L966.7,1229.6 L968.4,1230.5 L970.2,1231.4 L972.0,1232.3 L973.8,1233.1 L975.6,1234.0 L977.4,1234.9 L979.2,1235.7 L981.0,1236.6 L982.8,1237.4 L984.7,1238.2 L986.5,1239.1 L988.3,1239.9 L990.1,1240.8 L991.9,1241.6 L993.7,1242.4 L995.6,1243.2 L997.4,1244.1 L999.2,1244.9 L1001.0,1245.7 L1002.8,1246.5 L1004.7,1247.3 L1006.5,1248.2 L1008.3,1249.0 L1010.2,1249.8 L1012.0,1250.6 L1013.8,1251.4 L1015.6,1252.2 L1017.5,1253.1 L1019.3,1253.9 L1021.1,1254.7 L1022.9,1255.5 L1024.8,1256.3 L1026.6,1257.2 L1028.4,1258.0 L1030.3,1258.8 L1032.1,1259.7 L1033.9,1260.5 L1035.7,1261.3 L1037.6,1262.2 L1039.4,1263.0 L1041.2,1263.8 L1043.0,1264.7 L1044.9,1265.5 L1046.7,1266.4 L1048.5,1267.2 L1050.3,1268.0 L1052.2,1268.9 L1054.0,1269.7 L1055.8,1270.6 L1057.7,1271.4 L1059.5,1272.2 L1061.3,1273.1 L1063.1,1273.9 L1065.0,1274.7 L1066.8,1275.6 L1068.6,1276.4 L1070.5,1277.2 L1072.3,1278.1 L1074.1,1278.9 L1076.0,1279.7 L1077.8,1280.5 L1079.6,1281.4 L1081.5,1282.2 L1083.3,1283.0 L1085.2,1283.8 L1087.0,1284.6 L1088.8,1285.4 L1090.7,1286.2 L1092.5,1287.0 L1094.4,1287.8 L1096.2,1288.6 L1098.1,1289.4 L1099.9,1290.1 L1101.8,1290.9 L1103.6,1291.7 L1105.5,1292.4 L1107.3,1293.2 L1109.2,1293.9 L1111.1,1294.7 L1112.9,1295.4 L1114.8,1296.2 L1116.7,1296.9 L1118.5,1297.6 L1120.4,1298.3 L1122.3,1299.0 L1124.1,1299.7 L1126.0,1300.4 L1127.9,1301.1 L1129.8,1301.8 L1131.7,1302.5 L1133.5,1303.2 L1135.4,1303.8 L1137.3,1304.5 L1139.2,1305.2 L1141.1,1305.8 L1143.0,1306.5 L1144.9,1307.1 L1146.8,1307.7 L1148.7,1308.4 L1150.6,1309.0 L1152.5,1309.6 L1154.4,1310.2 L1156.3,1310.8 L1158.2,1311.4 L1160.1,1312.0 L1162.0,1312.6 L1163.9,1313.2 L1165.8,1313.8 L1167.7,1314.4 L1169.6,1314.9 L1171.5,1315.5 L1173.5,1316.0 L1175.4,1316.6 L1177.3,1317.1 L1179.2,1317.7 L1181.2,1318.2 L1183.1,1318.8 L1185.0,1319.3 L1186.9,1319.8 L1188.9,1320.3 L1190.8,1320.8 L1192.7,1321.3 L1194.7,1321.9 L1196.6,1322.3 L1198.5,1322.8 L1200.5,1323.3 L1202.4,1323.8 L1204.3,1324.3 L1206.3,1324.8 L1208.2,1325.2 L1210.2,1325.7 L1212.1,1326.2 L1214.1,1326.6 L1216.0,1327.1 L1217.9,1327.5 L1219.9,1327.9 L1221.8,1328.4 L1223.8,1328.8 L1225.7,1329.2 L1227.7,1329.7 L1229.7,1330.1 L1231.6,1330.5 L1233.6,1330.9 L1235.5,1331.3 L1237.5,1331.7 L1239.4,1332.1 L1241.4,1332.5 L1243.4,1332.9 L1245.3,1333.3 L1247.3,1333.7 L1249.3,1334.0 L1251.2,1334.4 L1253.2,1334.8 L1255.2,1335.1 L1257.1,1335.5 L1259.1,1335.9 L1261.1,1336.2 L1263.0,1336.6 L1265.0,1336.9 L1267.0,1337.2 L1269.0,1337.6 L1270.9,1337.9 L1272.9,1338.2 L1274.9,1338.6 L1276.9,1338.9 L1278.8,1339.2 L1280.8,1339.5 L1282.8,1339.8 L1284.8,1340.1 L1286.7,1340.4 L1288.7,1340.7 L1290.7,1341.0 L1292.7,1341.3 L1294.7,1341.6 L1296.7,1341.9 L1298.6,1342.2 L1300.6,1342.5 L1302.6,1342.7 L1304.6,1343.0 L1306.6,1343.3 L1308.6,1343.6 L1310.6,1343.8 L1312.5,1344.1 L1314.5,1344.3 L1316.5,1344.6 L1318.5,1344.8 L1320.5,1345.1 L1322.5,1345.3 L1324.5,1345.6 L1326.5,1345.8 L1328.5,1346.0 L1330.4,1346.3 L1332.4,1346.5 L1334.4,1346.7 L1336.4,1347.0 L1338.4,1347.2 L1340.4,1347.4 L1342.4,1347.6 L1344.4,1347.8 L1346.4,1348.0 L1348.4,1348.2 L1350.4,1348.5 L1352.4,1348.7 L1354.4,1348.9 L1356.4,1349.1 L1358.3,1349.2 L1360.3,1349.4 L1362.3,1349.6 L1364.3,1349.8 L1366.3,1350.0 L1368.3,1350.2 L1370.3,1350.4 L1372.3,1350.5 L1374.3,1350.7 L1376.3,1350.9 L1378.3,1351.1 L1380.3,1351.2 L1382.3,1351.4 L1384.3,1351.6 L1386.3,1351.7 L1388.3,1351.9 L1390.3,1352.0 L1392.3,1352.2 L1394.3,1352.3 L1396.3,1352.5 L1398.3,1352.6 L1400.3,1352.8 L1402.3,1352.9 L1404.3,1353.1 L1406.3,1353.2 L1408.3,1353.3 L1410.3,1353.5 L1412.2,1353.6 L1414.2,1353.7 L1416.2,1353.9 L1418.2,1354.0 L1420.2,1354.1 L1422.2,1354.3 L1424.2,1354.4 L1426.2,1354.5 L1428.2,1354.6 L1430.2,1354.7 L1432.2,1354.8 L1434.2,1355.0 L1436.2,1355.1 L1438.2,1355.2 L1440.2,1355.3 L1442.2,1355.4 L1444.2,1355.5 L1446.2,1355.6 L1448.2,1355.7 L1450.2,1355.8 L1452.2,1355.9 L1454.2,1356.0 L1456.2,1356.1 L1458.2,1356.2 L1460.2,1356.2 L1462.2,1356.3 L1464.2,1356.4 L1466.2,1356.5 L1468.2,1356.6 L1470.2,1356.7 L1472.2,1356.7 L1474.2,1356.8 L1476.2,1356.9 L1478.2,1357.0 L1480.2,1357.0 L1482.2,1357.1 L1484.2,1357.2 L1486.2,1357.3 L1488.2,1357.3 L1490.2,1357.4 L1492.2,1357.4 L1494.2,1357.5 L1496.2,1357.6 L1498.2,1357.6 L1500.3,1357.7 L1502.3,1357.7 L1504.3,1357.8 L1506.3,1357.9 L1508.3,1357.9 L1510.3,1358.0 L1512.3,1358.0 L1514.3,1358.1 L1516.3,1358.1 L1518.3,1358.2 L1520.3,1358.2 L1522.3,1358.3 L1524.3,1358.3 L1526.3,1358.3 L1528.3,1358.4 L1530.3,1358.4 L1532.3,1358.5 L1534.3,1358.5 L1536.3,1358.5 L1538.3,1358.6 L1540.3,1358.6 L1542.3,1358.6 L1544.3,1358.7 L1546.3,1358.7 L1548.3,1358.7 L1550.3,1358.8 L1552.3,1358.8 L1554.3,1358.8 L1556.3,1358.8 L1558.3,1358.9 L1560.3,1358.9 L1562.3,1358.9 L1564.3,1358.9 L1566.3,1359.0 L1568.4,1359.0 L1570.4,1359.0 L1572.4,1359.0 L1574.4,1359.0 L1576.4,1359.1 L1578.4,1359.1 L1580.4,1359.1 L1582.4,1359.1 L1584.4,1359.1 L1586.4,1359.2 L1588.4,1359.2 L1590.4,1359.2 L1592.4,1359.2 L1594.4,1359.2 L1596.4,1359.2 L1598.4,1359.2 L1600.4,1359.2 L1602.4,1359.3 L1604.4,1359.3 L1606.4,1359.3 L1608.4,1359.3 L1610.4,1359.3 L1612.4,1359.3 L1614.5,1359.3 L1616.5,1359.3 L1618.5,1359.3 L1620.5,1359.3 L1622.5,1359.3 L1624.5,1359.3 L1626.5,1359.3 L1628.5,1359.3 L1630.5,1359.3 L1632.5,1359.4 L1634.5,1359.4 L1636.5,1359.4 L1638.5,1359.4 L1640.5,1359.4 L1642.5,1359.4 L1644.5,1359.4 L1646.5,1359.4 L1648.5,1359.4 L1650.5,1359.4 L1652.5,1359.4 L1654.6,1359.4 L1656.6,1359.4 L1658.6,1359.4 L1660.6,1359.4 L1662.6,1359.4 L1664.6,1359.4 L1666.6,1359.4 L1668.6,1359.4 L1670.6,1359.4 L1672.6,1359.4 L1674.6,1359.4 L1676.6,1359.4 L1678.6,1359.4 L1680.6,1359.4 L1682.6,1359.4 L1684.6,1359.4 L1686.6,1359.4 L1688.6,1359.4 L1690.6,1359.4 L1692.7,1359.4 L1694.7,1359.4 L1696.7,1359.4 L1698.7,1359.4 L1700.7,1359.4 L1702.7,1359.4 L1704.7,1359.4 L1706.7,1359.4 L1708.7,1359.4 L1710.7,1359.4 L1712.7,1359.4 L1714.7,1359.5 L1716.7,1359.5 L1718.7,1359.5 L1720.7,1359.5 L1722.7,1359.5 L1724.7,1359.5 L1726.7,1359.5 L1728.7,1359.5 L1730.7,1359.5 L1732.8,1359.5 L1734.8,1359.5 L1736.8,1359.5 L1738.8,1359.5 L1740.8,1359.6 L1742.8,1359.6 L1744.8,1359.6 L1746.8,1359.6 L1748.8,1359.6 L1750.8,1359.6 L1752.8,1359.6 L1754.8,1359.6 L1756.8,1359.7 L1758.8,1359.7 L1760.8,1359.7 L1762.8,1359.7 L1764.8,1359.7 L1766.8,1359.8 L1768.8,1359.8 L1770.8,1359.8 L1772.8,1359.8 L1774.9,1359.8 L1776.9,1359.9 L1778.9,1359.9 L1780.9,1359.9 L1782.9,1359.9 L1784.9,1360.0 L1786.9,1360.0 L1788.9,1360.0 L1790.9,1360.1 L1792.9,1360.1 L1794.9,1360.1 L1796.9,1360.2 L1798.9,1360.2 L1800.9,1360.2 L1802.9,1360.3 L1804.9,1360.3 L1806.9,1360.3 L1808.9,1360.4 L1810.9,1360.4 L1812.9,1360.5 L1814.9,1360.5 L1816.9,1360.5 L1818.9,1360.6 L1820.9,1360.6 L1822.9,1360.7 L1825.0,1360.7 L1827.0,1360.8 L1829.0,1360.8 L1831.0,1360.9 L1833.0,1360.9 L1835.0,1361.0 L1837.0,1361.0 L1839.0,1361.1 L1841.0,1361.2 L1843.0,1361.2 L1845.0,1361.3 L1847.0,1361.3 L1849.0,1361.4 L1851.0,1361.5 L1853.0,1361.5 L1855.0,1361.6 L1857.0,1361.7 L1859.0,1361.8 L1861.0,1361.8 L1863.0,1361.9 L1865.0,1362.0 L1867.0,1362.1 L1869.0,1362.1 L1871.0,1362.2 L1873.0,1362.3 L1875.0,1362.4 L1877.0,1362.5 L1879.0,1362.6 L1881.0,1362.6 L1883.0,1362.7 L1885.0,1362.8 L1887.0,1362.9 L1889.0,1363.0 L1891.0,1363.1 L1893.0,1363.2 L1895.0,1363.3 L1897.0,1363.4 L1899.0,1363.5 L1901.0,1363.6 L1903.0,1363.7 L1905.0,1363.8 L1907.0,1364.0 L1909.0,1364.1 L1911.0,1364.2 L1913.0,1364.3 L1915.0,1364.4 L1917.0,1364.5 L1919.0,1364.7 L1921.0,1364.8 L1923.0,1364.9 L1925.0,1365.1 L1927.0,1365.2 L1929.0,1365.3 L1931.0,1365.5 L1933.0,1365.6 L1935.0,1365.7 L1937.0,1365.9 L1939.0,1366.0 L1941.0,1366.2 L1943.0,1366.3 L1945.0,1366.5 L1947.0,1366.6 L1949.0,1366.8 L1951.0,1366.9 L1953.0,1367.1 L1955.0,1367.2 L1957.0,1367.4 L1959.0,1367.6 L1961.0,1367.7 L1963.0,1367.9 L1965.0,1368.1 L1967.0,1368.3 L1969.0,1368.4 L1971.0,1368.6 L1973.0,1368.8 L1975.0,1369.0 L1977.0,1369.2 L1979.0,1369.4 L1981.0,1369.6" fill="none" stroke="#0000FF" stroke-width="11" stroke-linejoin="round" stroke-linecap="round" />
</g>
<path d="M656.8,838.0 C658.7,841.1 664.3,850.4 668.0,856.5 C671.7,862.6 675.5,868.6 679.2,874.4 C682.9,880.2 687.4,886.6 690.4,891.2 C693.4,895.8 693.8,896.3 697.0,902.0 C700.2,907.7 705.1,918.1 709.5,925.5 C713.9,932.9 718.3,938.4 723.2,946.6 C728.1,954.8 734.1,966.0 738.7,974.9 C743.4,983.8 747.0,991.5 751.1,999.8 C755.2,1008.1 759.5,1017.2 763.6,1024.7 C767.8,1032.2 772.1,1038.0 776.0,1044.6 C779.9,1051.2 783.2,1057.9 787.2,1064.5 C791.2,1071.1 797.6,1081.1 799.7,1084.4" fill="none" stroke="#fff" stroke-width="5" stroke-dasharray="16 8"/>
<path d="M955.4,1224.0 C958.3,1225.5 967.1,1230.0 973.0,1232.8 C978.9,1235.6 984.7,1238.1 990.6,1240.7 C996.5,1243.3 1002.4,1246.0 1008.2,1248.6 C1014.1,1251.2 1019.9,1253.9 1025.7,1256.5 C1031.5,1259.1 1034.2,1260.0 1043.3,1264.4 C1052.3,1268.8 1068.0,1278.1 1080.0,1283.1 C1092.0,1288.1 1109.2,1292.6 1115.1,1294.5" fill="none" stroke="#fff" stroke-width="5" stroke-dasharray="16 8"/>
<path d="M814.6,1105.6 C817.1,1108.7 824.5,1118.3 829.5,1124.3 C834.5,1130.3 838.1,1135.3 844.5,1141.7 C850.9,1148.1 860.8,1156.5 867.6,1162.5 C874.4,1168.5 879.2,1172.7 885.1,1177.5 C891.0,1182.3 896.8,1187.1 902.7,1191.5 C908.6,1195.9 914.4,1200.0 920.3,1203.8 C926.2,1207.6 935.0,1212.6 937.9,1214.4" fill="none" stroke="#0000FF" stroke-width="13" stroke-linejoin="round" stroke-linecap="round" />
<text transform="translate(310.0,1511.0) scale(1,1.0407)" x="0" y="0" fill="#000" text-anchor="middle" style="font-family:'Liberation Sans', Arial, sans-serif;font-size:86.5px;" >0</text>
<text transform="translate(728.8,1511.0) scale(1,1.0407)" x="0" y="0" fill="#000" text-anchor="middle" style="font-family:'Liberation Sans', Arial, sans-serif;font-size:86.5px;" >50</text>
<text transform="translate(1147.5,1511.0) scale(1,1.0407)" x="0" y="0" fill="#000" text-anchor="middle" style="font-family:'Liberation Sans', Arial, sans-serif;font-size:86.5px;" >100</text>
<text transform="translate(1566.2,1511.0) scale(1,1.0407)" x="0" y="0" fill="#000" text-anchor="middle" style="font-family:'Liberation Sans', Arial, sans-serif;font-size:86.5px;" >150</text>
<text transform="translate(1985.0,1511.0) scale(1,1.0407)" x="0" y="0" fill="#000" text-anchor="middle" style="font-family:'Liberation Sans', Arial, sans-serif;font-size:86.5px;" >200</text>
<text transform="translate(310.0,133.0) scale(1,1.0407)" x="0" y="0" fill="#000" text-anchor="middle" style="font-family:'Liberation Sans', Arial, sans-serif;font-size:86.5px;" >2</text>
<text transform="translate(848.0,133.0) scale(1,1.0407)" x="0" y="0" fill="#000" text-anchor="middle" style="font-family:'Liberation Sans', Arial, sans-serif;font-size:86.5px;" >10</text>
<text transform="translate(1617.7,133.0) scale(1,1.0407)" x="0" y="0" fill="#000" text-anchor="middle" style="font-family:'Liberation Sans', Arial, sans-serif;font-size:86.5px;" >100</text>
<text transform="translate(1985.0,133.0) scale(1,1.0407)" x="0" y="0" fill="#000" text-anchor="middle" style="font-family:'Liberation Sans', Arial, sans-serif;font-size:86.5px;" >300</text>
<text transform="translate(272.5,1435.6) scale(1,1.0407)" x="0" y="0" fill="#000" text-anchor="end" style="font-family:'Liberation Sans', Arial, sans-serif;font-size:86.5px;" >0.8</text>
<text transform="translate(272.5,1210.0) scale(1,1.0407)" x="0" y="0" fill="#000" text-anchor="end" style="font-family:'Liberation Sans', Arial, sans-serif;font-size:86.5px;" >0.9</text>
<text transform="translate(272.5,984.4) scale(1,1.0407)" x="0" y="0" fill="#000" text-anchor="end" style="font-family:'Liberation Sans', Arial, sans-serif;font-size:86.5px;" >1.0</text>
<text transform="translate(272.5,758.8) scale(1,1.0407)" x="0" y="0" fill="#000" text-anchor="end" style="font-family:'Liberation Sans', Arial, sans-serif;font-size:86.5px;" >1.1</text>
<text transform="translate(272.5,533.2) scale(1,1.0407)" x="0" y="0" fill="#000" text-anchor="end" style="font-family:'Liberation Sans', Arial, sans-serif;font-size:86.5px;" >1.2</text>
<text transform="translate(272.5,307.6) scale(1,1.0407)" x="0" y="0" fill="#000" text-anchor="end" style="font-family:'Liberation Sans', Arial, sans-serif;font-size:86.5px;" >1.3</text>
<text transform="translate(2012.5,1397.2) scale(1,1.0407)" x="0" y="0" fill="#000" text-anchor="start" style="font-family:'Liberation Sans', Arial, sans-serif;font-size:86.5px;" >10<tspan dy="-35" style="font-size:57px">0</tspan></text>
<text transform="translate(2012.5,1098.5) scale(1,1.0407)" x="0" y="0" fill="#000" text-anchor="start" style="font-family:'Liberation Sans', Arial, sans-serif;font-size:86.5px;" >10<tspan dy="-35" style="font-size:57px">1</tspan></text>
<text transform="translate(2012.5,799.8) scale(1,1.0407)" x="0" y="0" fill="#000" text-anchor="start" style="font-family:'Liberation Sans', Arial, sans-serif;font-size:86.5px;" >10<tspan dy="-35" style="font-size:57px">2</tspan></text>
<text transform="translate(2012.5,501.1) scale(1,1.0407)" x="0" y="0" fill="#000" text-anchor="start" style="font-family:'Liberation Sans', Arial, sans-serif;font-size:86.5px;" >10<tspan dy="-35" style="font-size:57px">3</tspan></text>
<text transform="translate(2012.5,202.4) scale(1,1.0407)" x="0" y="0" fill="#000" text-anchor="start" style="font-family:'Liberation Sans', Arial, sans-serif;font-size:86.5px;" >10<tspan dy="-35" style="font-size:57px">4</tspan></text>
<text transform="translate(1128.0,103.5) scale(1,1.0407)" x="0" y="0" fill="#000" text-anchor="start" style="font-family:'Liberation Sans', Arial, sans-serif;font-size:104.0px;word-spacing:-1.0px;" ><tspan style="font-style:italic">T</tspan> (K)</text>
<text transform="translate(1258.5,1559.0) scale(1,1.0407)" x="0" y="0" fill="#000" text-anchor="start" style="font-family:'Liberation Sans', Arial, sans-serif;font-size:104.0px;word-spacing:-3.0px;" ><tspan style="font-style:italic">T</tspan> (K)</text>
<text transform="translate(105.0,1130.5) rotate(-90) scale(1,1.0407)" x="0" y="0" fill="#000" text-anchor="start" style="font-family:'Liberation Sans', Arial, sans-serif;font-size:104.0px;word-spacing:-8.0px;" ><tspan style="font-style:italic">R</tspan>(<tspan style="font-style:italic">T</tspan>) / <tspan style="font-style:italic">R</tspan>(200 K)</text>
<text transform="translate(2241.0,1130.5) rotate(-90) scale(1,1.0407)" x="0" y="0" fill="#000" text-anchor="start" style="font-family:'Liberation Sans', Arial, sans-serif;font-size:104.0px;word-spacing:-8.0px;" ><tspan style="font-style:italic">R</tspan>(<tspan style="font-style:italic">T</tspan>) / <tspan style="font-style:italic">R</tspan>(200 K)</text>
<text transform="translate(373.0,407.4) scale(1,1.0407)" x="0" y="0" fill="#AFBB22" text-anchor="start" style="font-family:'Liberation Sans', Arial, sans-serif;font-size:76.0px;" >0.95</text>
<text transform="translate(401.5,632.7) scale(1,1.0407)" x="0" y="0" fill="#FF8000" text-anchor="start" style="font-family:'Liberation Sans', Arial, sans-serif;font-size:76.0px;word-spacing:-6.0px;" >x = 0.99</text>
<text transform="translate(1131.5,1046.0) scale(1,1.0407)" x="0" y="0" fill="#008080" text-anchor="start" style="font-family:'Liberation Sans', Arial, sans-serif;font-size:76.0px;word-spacing:-6.0px;" >x = 0.9</text>
<text transform="translate(1322.5,1297.0) scale(1,1.0407)" x="0" y="0" fill="#808080" text-anchor="start" style="font-family:'Liberation Sans', Arial, sans-serif;font-size:76.0px;word-spacing:-6.0px;" >x = 0</text>
<text transform="translate(983.5,1390.0) scale(1,1.0407)" x="0" y="0" fill="#0000FF" text-anchor="start" style="font-family:'Liberation Sans', Arial, sans-serif;font-size:76.0px;word-spacing:-6.0px;" >x = 0.2</text>
<text transform="translate(419.0,1330.3) scale(1,1.0407)" x="0" y="0" fill="#000" text-anchor="start" style="font-family:'Liberation Sans', Arial, sans-serif;font-size:86.5px;" >Sm<tspan dy="22.5" style="font-size:57.0px">1-x</tspan><tspan dy="-22.5" style="font-size:86.5px">Eu</tspan><tspan dy="22.5" style="font-size:57.0px">x</tspan><tspan dy="-22.5" style="font-size:86.5px">B</tspan><tspan dy="22.5" style="font-size:57.0px">6</tspan></text>
<path d="M1038.6,340.4 L1042.6,340.2 L1046.6,340.4 L1050.6,339.2 L1055.4,337.8 L1060.2,336.4 L1064.9,334.0 L1068.6,332.6 L1072.2,331.3 L1075.8,330.0 L1079.4,327.1 L1082.9,324.9 L1086.3,322.3 L1089.7,321.2 L1093.1,319.4 L1096.5,316.1 L1099.8,315.0 L1103.8,312.7 L1107.8,309.6 L1111.8,306.4 L1115.7,302.4 L1119.5,298.4 L1123.2,295.7 L1126.2,292.4 L1129.2,289.6 L1132.0,286.8 L1134.9,283.5 L1137.7,281.0 L1140.5,278.2 L1143.3,275.9 L1146.2,272.9 L1150.0,270.1 L1154.2,268.1 L1158.8,267.7 L1163.6,267.7 L1168.5,268.3 L1172.4,270.6 L1176.3,272.6 L1180.2,274.1 L1184.0,275.3 L1187.8,275.9 L1191.6,276.6 L1195.4,277.7 L1200.1,278.7 L1204.9,281.2 L1209.6,282.4 L1214.4,284.4 L1219.2,285.2 L1224.1,287.1 L1228.0,288.2 L1231.9,287.6 L1235.9,288.0 L1239.8,289.9 L1243.7,290.6 L1247.6,292.4 L1251.5,292.7 L1255.4,292.7 L1260.2,294.4 L1265.1,296.2 L1269.9,296.7 L1274.8,297.1 L1279.7,298.1 L1283.7,300.1 L1287.6,301.0 L1291.6,300.7 L1295.5,301.0 L1299.5,301.3 L1303.4,301.7 L1307.4,303.6 L1311.3,303.8 L1315.2,305.0 L1319.2,305.8 L1323.1,306.2 L1327.0,307.7 L1330.9,307.7 L1334.9,309.0 L1338.8,309.1 L1342.8,310.0 L1346.7,310.3 L1350.7,310.9 L1354.6,312.7 L1358.6,313.6 L1362.6,313.4 L1366.6,314.5 L1370.6,314.0 L1374.6,314.2 L1378.6,315.3 L1382.6,315.6 L1386.6,315.0 L1390.6,316.3 L1394.6,315.8 L1398.6,315.7 L1402.6,316.7 L1406.6,316.6 L1410.6,316.5 L1414.6,316.2 L1418.6,316.2 L1422.6,317.2 L1426.6,317.2 L1430.6,318.0 L1434.6,318.1 L1438.6,318.5 L1442.6,319.7 L1446.6,319.6 L1450.6,319.8 L1454.6,320.6 L1458.6,319.9 L1462.6,319.5 L1466.6,320.9 L1470.6,321.5 L1474.6,321.0 L1478.6,320.7 L1482.6,321.7 L1486.6,322.7 L1490.6,322.1 L1494.6,323.2 L1498.6,323.9 L1502.6,323.9 L1506.6,323.7 L1510.6,323.1 L1514.6,322.9 L1518.6,324.5 L1522.6,324.3 L1526.6,325.1 L1530.6,324.9 L1534.6,325.9 L1538.6,326.2 L1542.6,326.0 L1546.6,325.8 L1550.6,326.7 L1554.6,326.2 L1558.6,326.4 L1562.6,327.1 L1566.6,328.2 L1570.6,328.5 L1574.6,328.1 L1578.6,329.2 L1582.6,328.6 L1586.6,328.0 L1590.6,328.2 L1594.6,328.7 L1598.6,328.4 L1602.6,328.5 L1606.6,329.0 L1610.6,329.7 L1614.6,329.4 L1618.6,329.7 L1622.6,330.9 L1626.6,331.7 L1630.6,331.7 L1634.6,331.8 L1638.6,331.7 L1642.6,330.9 L1646.7,330.3 L1650.7,330.0 L1654.7,331.5 L1658.7,332.0 L1662.7,332.8 L1666.7,331.6 L1670.7,332.1 L1674.7,332.1 L1678.7,332.6 L1682.7,332.2 L1686.7,333.2 L1690.7,332.1 L1694.7,332.4 L1698.8,333.0 L1702.8,333.6 L1706.8,333.7 L1710.8,333.7 L1714.8,333.9 L1718.8,334.3 L1722.8,333.5 L1726.8,333.8 L1730.8,334.3 L1734.8,334.6 L1738.8,334.0 L1742.9,334.3 L1746.9,334.7 L1750.9,334.4 L1754.9,334.4 L1758.9,334.0 L1762.9,334.2 L1766.9,334.4 L1770.9,333.6 L1774.9,334.2 L1778.9,335.3 L1782.9,335.7 L1786.9,335.7 L1790.9,335.2 L1794.9,335.6 L1799.0,335.6 L1803.0,335.4 L1807.0,336.1 L1811.0,335.1 L1815.0,335.9 L1819.0,335.1 L1823.0,335.8 L1827.0,336.0 L1831.0,335.8 L1832.0,336.5" fill="none" stroke="#008080" stroke-width="7.2" stroke-linejoin="round" stroke-linecap="round" />
<path d="M1037.9,585.7 L1040.0,585.4 L1042.0,585.1 L1044.0,584.7 L1046.0,584.3 L1048.0,583.8 L1050.0,583.3 L1051.9,582.7 L1053.8,582.1 L1055.7,581.5 L1057.6,580.8 L1059.4,580.1 L1061.3,579.3 L1063.1,578.5 L1064.9,577.7 L1066.7,576.9 L1068.5,576.0 L1070.2,575.1 L1072.0,574.1 L1073.7,573.2 L1075.5,572.2 L1077.2,571.2 L1078.9,570.2 L1080.6,569.1 L1082.3,568.0 L1084.0,567.0 L1085.7,565.9 L1087.4,564.8 L1089.1,563.6 L1090.8,562.5 L1092.5,561.4 L1094.2,560.2 L1095.9,559.1 L1097.6,558.0 L1099.3,556.9 L1101.1,555.8 L1102.8,554.8 L1104.5,553.8 L1106.3,553.0 L1108.0,552.1 L1109.8,551.4 L1111.6,550.8 L1113.4,550.2 L1115.3,549.8 L1117.1,549.5 L1119.0,549.4 L1120.9,549.4 L1122.9,549.5 L1124.8,549.8 L1126.8,550.2 L1128.8,550.7 L1130.7,551.3 L1132.7,552.0 L1134.6,552.7 L1136.6,553.4 L1138.5,554.2 L1140.4,555.0 L1142.2,555.8 L1144.1,556.6 L1145.9,557.5 L1147.7,558.4 L1149.5,559.4 L1151.3,560.3 L1153.0,561.3 L1154.8,562.3 L1156.5,563.3 L1158.2,564.4 L1159.9,565.4 L1161.6,566.5 L1163.3,567.6 L1165.0,568.7 L1166.6,569.8 L1168.3,570.9 L1170.0,572.1 L1171.6,573.2 L1173.2,574.4 L1174.9,575.5 L1176.5,576.7 L1178.1,577.9 L1179.8,579.1 L1181.4,580.2 L1183.0,581.4 L1184.6,582.6 L1186.3,583.8 L1187.9,585.0 L1189.5,586.2 L1191.2,587.3 L1192.8,588.5 L1194.4,589.7 L1196.1,590.8 L1197.7,592.0 L1199.4,593.1 L1201.1,594.2 L1202.7,595.4 L1204.4,596.5 L1206.1,597.6 L1207.8,598.7 L1209.5,599.8 L1211.2,600.8 L1212.9,601.9 L1214.6,603.0 L1216.3,604.0 L1218.0,605.0 L1219.8,606.1 L1221.5,607.1 L1223.2,608.1 L1225.0,609.1 L1226.7,610.1 L1228.5,611.1 L1230.3,612.1 L1232.0,613.0 L1233.8,614.0 L1235.6,614.9 L1237.4,615.9 L1239.1,616.8 L1240.9,617.7 L1242.7,618.6 L1244.5,619.5 L1246.3,620.4 L1248.1,621.3 L1250.0,622.1 L1251.8,623.0 L1253.6,623.8 L1255.4,624.7 L1257.2,625.5 L1259.1,626.3 L1260.9,627.1 L1262.7,627.9 L1264.6,628.7 L1266.4,629.5 L1268.3,630.3 L1270.1,631.0 L1272.0,631.8 L1273.9,632.5 L1275.7,633.2 L1277.6,633.9 L1279.5,634.6 L1281.3,635.3 L1283.2,636.0 L1285.1,636.7 L1287.0,637.4 L1288.9,638.0 L1290.7,638.7 L1292.6,639.3 L1294.5,640.0 L1296.4,640.6 L1298.3,641.2 L1300.2,641.8 L1302.1,642.4 L1304.0,643.0 L1306.0,643.6 L1307.9,644.1 L1309.8,644.7 L1311.7,645.2 L1313.6,645.8 L1315.5,646.3 L1317.5,646.9 L1319.4,647.4 L1321.3,647.9 L1323.3,648.4 L1325.2,648.9 L1327.1,649.4 L1329.1,649.9 L1331.0,650.3 L1333.0,650.8 L1334.9,651.3 L1336.9,651.7 L1338.8,652.2 L1340.8,652.6 L1342.7,653.1 L1344.7,653.5 L1346.6,653.9 L1348.6,654.3 L1350.6,654.7 L1352.5,655.1 L1354.5,655.5 L1356.4,655.9 L1358.4,656.3 L1360.4,656.7 L1362.4,657.0 L1364.3,657.4 L1366.3,657.8 L1368.3,658.1 L1370.3,658.5 L1372.2,658.8 L1374.2,659.1 L1376.2,659.5 L1378.2,659.8 L1380.2,660.1 L1382.2,660.4 L1384.1,660.7 L1386.1,661.0 L1388.1,661.3 L1390.1,661.6 L1392.1,661.9 L1394.1,662.2 L1396.1,662.5 L1398.1,662.8 L1400.1,663.0 L1402.1,663.3 L1404.1,663.6 L1406.1,663.8 L1408.1,664.1 L1410.1,664.3 L1412.1,664.6 L1414.1,664.8 L1416.1,665.1 L1418.1,665.3 L1420.1,665.6 L1422.1,665.8 L1424.1,666.0 L1426.1,666.2 L1428.1,666.5 L1430.1,666.7 L1432.1,666.9 L1434.1,667.1 L1436.1,667.3 L1438.1,667.5 L1440.1,667.7 L1442.1,667.9 L1444.1,668.1 L1446.1,668.3 L1448.1,668.5 L1450.1,668.7 L1452.1,668.9 L1454.1,669.1 L1456.1,669.3 L1458.1,669.5 L1460.1,669.7 L1462.1,669.9 L1464.1,670.0 L1466.1,670.2 L1468.1,670.4 L1470.2,670.6 L1472.2,670.7 L1474.2,670.9 L1476.2,671.1 L1478.2,671.2 L1480.2,671.4 L1482.2,671.6 L1484.2,671.7 L1486.2,671.9 L1488.2,672.1 L1490.2,672.2 L1492.2,672.4 L1494.2,672.5 L1496.2,672.7 L1498.2,672.8 L1500.2,673.0 L1502.2,673.1 L1504.2,673.2 L1506.2,673.4 L1508.2,673.5 L1510.2,673.7 L1512.2,673.8 L1514.2,673.9 L1516.2,674.1 L1518.2,674.2 L1520.2,674.3 L1522.2,674.5 L1524.2,674.6 L1526.2,674.7 L1528.2,674.8 L1530.2,674.9 L1532.2,675.1 L1534.2,675.2 L1536.2,675.3 L1538.2,675.4 L1540.2,675.5 L1542.2,675.6 L1544.2,675.8 L1546.2,675.9 L1548.2,676.0 L1550.2,676.1 L1552.2,676.2 L1554.2,676.3 L1556.2,676.4 L1558.2,676.5 L1560.3,676.6 L1562.3,676.7 L1564.3,676.8 L1566.3,676.9 L1568.3,677.0 L1570.3,677.1 L1572.3,677.1 L1574.3,677.2 L1576.3,677.3 L1578.3,677.4 L1580.3,677.5 L1582.3,677.6 L1584.3,677.7 L1586.3,677.7 L1588.3,677.8 L1590.3,677.9 L1592.3,678.0 L1594.3,678.0 L1596.3,678.1 L1598.3,678.2 L1600.3,678.3 L1602.3,678.3 L1604.3,678.4 L1606.3,678.5 L1608.3,678.5 L1610.3,678.6 L1612.3,678.7 L1614.3,678.7 L1616.3,678.8 L1618.3,678.9 L1620.3,678.9 L1622.3,679.0 L1624.3,679.0 L1626.3,679.1 L1628.3,679.2 L1630.3,679.2 L1632.3,679.3 L1634.3,679.3 L1636.3,679.4 L1638.3,679.4 L1640.3,679.5 L1642.3,679.5 L1644.3,679.6 L1646.3,679.6 L1648.3,679.7 L1650.3,679.7 L1652.4,679.8 L1654.4,679.8 L1656.4,679.9 L1658.4,679.9 L1660.4,679.9 L1662.4,680.0 L1664.4,680.0 L1666.4,680.1 L1668.4,680.1 L1670.4,680.1 L1672.4,680.2 L1674.4,680.2 L1676.4,680.3 L1678.4,680.3 L1680.4,680.3 L1682.4,680.4 L1684.4,680.4 L1686.4,680.4 L1688.4,680.5 L1690.4,680.5 L1692.4,680.5 L1694.4,680.5 L1696.4,680.6 L1698.4,680.6 L1700.4,680.6 L1702.5,680.7 L1704.5,680.7 L1706.5,680.7 L1708.5,680.7 L1710.5,680.8 L1712.5,680.8 L1714.5,680.8 L1716.5,680.8 L1718.5,680.9 L1720.5,680.9 L1722.5,680.9 L1724.5,680.9 L1726.5,681.0 L1728.5,681.0 L1730.5,681.0 L1732.5,681.0 L1734.6,681.0 L1736.6,681.1 L1738.6,681.1 L1740.6,681.1 L1742.6,681.1 L1744.6,681.1 L1746.6,681.2 L1748.6,681.2 L1750.6,681.2 L1752.6,681.2 L1754.6,681.2 L1756.6,681.2 L1758.6,681.3 L1760.7,681.3 L1762.7,681.3 L1764.7,681.3 L1766.7,681.3 L1768.7,681.3 L1770.7,681.4 L1772.7,681.4 L1774.7,681.4 L1776.7,681.4 L1778.7,681.4 L1780.7,681.4 L1782.8,681.5 L1784.8,681.5 L1786.8,681.5 L1788.8,681.5 L1790.8,681.5 L1792.8,681.5 L1794.8,681.5 L1796.8,681.6 L1798.8,681.6 L1800.8,681.6 L1802.9,681.6 L1804.9,681.6 L1806.9,681.6 L1808.9,681.6 L1810.9,681.7 L1812.9,681.7 L1814.9,681.7 L1816.9,681.7 L1819.0,681.7 L1821.0,681.7 L1823.0,681.8 L1825.0,681.8 L1827.0,681.8 L1829.0,681.8 L1831.0,681.8 L1833.1,681.8" fill="none" stroke="#AFBB22" stroke-width="7.8" stroke-linejoin="round" stroke-linecap="round" />
<path d="M1042.8,603.6 C1045.5,601.8 1053.4,597.5 1059.3,593.0 C1065.2,588.5 1072.7,581.9 1078.2,576.4 C1083.7,570.9 1087.7,565.7 1092.4,559.8 C1097.1,553.9 1102.8,547.7 1106.6,540.9 C1110.4,534.1 1110.7,528.3 1115.4,518.8 C1120.1,509.3 1128.5,494.7 1134.6,484.0 C1140.7,473.3 1146.2,464.3 1152.0,454.4 C1157.8,444.5 1163.6,432.8 1169.4,424.7 C1175.2,416.6 1181.0,411.7 1186.8,405.6 C1192.6,399.5 1198.5,393.9 1204.3,388.1 C1210.1,382.3 1215.9,376.5 1221.7,370.7 C1227.5,364.9 1233.3,358.0 1239.1,353.3 C1244.9,348.6 1252.7,344.6 1256.6,342.5 C1260.5,340.4 1260.7,341.0 1262.7,341.0 C1264.7,341.0 1265.5,340.2 1268.8,342.5 C1272.1,344.8 1277.5,350.0 1282.7,355.0 C1287.9,360.0 1294.3,366.7 1300.1,372.5 C1305.9,378.3 1311.8,383.5 1317.6,389.9 C1323.4,396.3 1329.2,404.7 1335.0,410.8 C1340.8,416.9 1346.6,421.6 1352.4,426.5 C1358.2,431.4 1362.1,435.4 1370.0,440.4 C1377.9,445.4 1387.1,451.1 1400.0,456.5 C1412.9,461.9 1429.8,468.6 1447.2,473.0 C1464.6,477.4 1485.4,480.1 1504.5,483.0 C1523.6,485.9 1542.6,488.1 1561.7,490.2 C1580.8,492.3 1599.9,494.0 1619.0,495.9 C1638.1,497.8 1658.5,500.2 1676.2,501.6 C1693.9,503.0 1713.0,504.7 1724.9,504.5 C1736.8,504.3 1736.8,500.2 1747.8,500.2 C1758.8,500.2 1776.5,503.3 1790.7,504.5 C1804.9,505.7 1826.0,506.8 1833.0,507.3" fill="none" stroke="#FF8000" stroke-width="7.8" stroke-linejoin="round" stroke-linecap="round" />
<path d="M1038.0,723.0 C1040.0,722.8 1045.8,723.2 1049.8,721.8 C1053.8,720.4 1057.3,717.9 1061.7,714.7 C1066.1,711.6 1070.8,707.2 1075.9,702.9 C1081.0,698.6 1088.1,689.7 1092.4,688.7 C1096.7,687.7 1098.8,691.7 1101.9,697.0 C1105.1,702.3 1108.2,711.5 1111.3,720.6 C1114.4,729.7 1117.6,742.7 1120.8,751.4 C1124.0,760.1 1126.3,767.1 1130.2,772.6 C1134.1,778.1 1137.3,781.5 1144.4,784.5 C1151.5,787.5 1164.1,789.6 1172.8,790.4 C1181.5,791.2 1188.5,790.0 1196.4,789.2 C1204.3,788.4 1212.2,787.4 1220.1,785.6 C1228.0,783.8 1235.8,780.7 1243.7,778.5 C1251.6,776.3 1259.5,774.8 1267.4,772.6 C1275.3,770.4 1283.1,767.3 1291.0,765.5 C1298.9,763.7 1306.7,763.4 1314.6,762.0 C1322.5,760.6 1330.4,758.7 1338.3,757.3 C1346.2,755.9 1354.0,754.3 1361.9,753.7 C1369.8,753.1 1381.6,753.7 1385.6,753.7" fill="none" stroke="#AFBB22" stroke-width="5" stroke-linejoin="round" stroke-linecap="round" />
<line x1="1038.0" y1="743.2" x2="1388.0" y2="743.2" stroke="#000" stroke-width="1.6" stroke-linecap="butt"/>
<rect x="971.5" y="236.7" width="865.0" height="601.5" fill="none" stroke="#000" stroke-width="7"/>
<line x1="971.5" y1="838.2" x2="971.5" y2="856.5" stroke="#000" stroke-width="7" stroke-linecap="butt"/>
<line x1="971.5" y1="236.7" x2="971.5" y2="255.0" stroke="#000" stroke-width="7" stroke-linecap="butt"/>
<line x1="1058.0" y1="838.2" x2="1058.0" y2="847.8" stroke="#000" stroke-width="7" stroke-linecap="butt"/>
<line x1="1058.0" y1="236.7" x2="1058.0" y2="246.0" stroke="#000" stroke-width="7" stroke-linecap="butt"/>
<line x1="1144.5" y1="838.2" x2="1144.5" y2="856.5" stroke="#000" stroke-width="7" stroke-linecap="butt"/>
<line x1="1144.5" y1="236.7" x2="1144.5" y2="255.0" stroke="#000" stroke-width="7" stroke-linecap="butt"/>
<line x1="1231.0" y1="838.2" x2="1231.0" y2="847.8" stroke="#000" stroke-width="7" stroke-linecap="butt"/>
<line x1="1231.0" y1="236.7" x2="1231.0" y2="246.0" stroke="#000" stroke-width="7" stroke-linecap="butt"/>
<line x1="1317.5" y1="838.2" x2="1317.5" y2="856.5" stroke="#000" stroke-width="7" stroke-linecap="butt"/>
<line x1="1317.5" y1="236.7" x2="1317.5" y2="255.0" stroke="#000" stroke-width="7" stroke-linecap="butt"/>
<line x1="1404.0" y1="838.2" x2="1404.0" y2="847.8" stroke="#000" stroke-width="7" stroke-linecap="butt"/>
<line x1="1404.0" y1="236.7" x2="1404.0" y2="246.0" stroke="#000" stroke-width="7" stroke-linecap="butt"/>
<line x1="1490.5" y1="838.2" x2="1490.5" y2="856.5" stroke="#000" stroke-width="7" stroke-linecap="butt"/>
<line x1="1490.5" y1="236.7" x2="1490.5" y2="255.0" stroke="#000" stroke-width="7" stroke-linecap="butt"/>
<line x1="1577.0" y1="838.2" x2="1577.0" y2="847.8" stroke="#000" stroke-width="7" stroke-linecap="butt"/>
<line x1="1577.0" y1="236.7" x2="1577.0" y2="246.0" stroke="#000" stroke-width="7" stroke-linecap="butt"/>
<line x1="1663.5" y1="838.2" x2="1663.5" y2="856.5" stroke="#000" stroke-width="7" stroke-linecap="butt"/>
<line x1="1663.5" y1="236.7" x2="1663.5" y2="255.0" stroke="#000" stroke-width="7" stroke-linecap="butt"/>
<line x1="1750.0" y1="838.2" x2="1750.0" y2="847.8" stroke="#000" stroke-width="7" stroke-linecap="butt"/>
<line x1="1750.0" y1="236.7" x2="1750.0" y2="246.0" stroke="#000" stroke-width="7" stroke-linecap="butt"/>
<line x1="1836.5" y1="838.2" x2="1836.5" y2="856.5" stroke="#000" stroke-width="7" stroke-linecap="butt"/>
<line x1="1836.5" y1="236.7" x2="1836.5" y2="255.0" stroke="#000" stroke-width="7" stroke-linecap="butt"/>
<line x1="953.0" y1="236.7" x2="971.5" y2="236.7" stroke="#000" stroke-width="7" stroke-linecap="butt"/>
<line x1="962.0" y1="311.9" x2="971.5" y2="311.9" stroke="#000" stroke-width="7" stroke-linecap="butt"/>
<line x1="953.0" y1="387.1" x2="971.5" y2="387.1" stroke="#000" stroke-width="7" stroke-linecap="butt"/>
<line x1="962.0" y1="462.3" x2="971.5" y2="462.3" stroke="#000" stroke-width="7" stroke-linecap="butt"/>
<line x1="953.0" y1="537.5" x2="971.5" y2="537.5" stroke="#000" stroke-width="7" stroke-linecap="butt"/>
<line x1="962.0" y1="612.6" x2="971.5" y2="612.6" stroke="#000" stroke-width="7" stroke-linecap="butt"/>
<line x1="953.0" y1="687.8" x2="971.5" y2="687.8" stroke="#000" stroke-width="7" stroke-linecap="butt"/>
<line x1="962.0" y1="763.0" x2="971.5" y2="763.0" stroke="#000" stroke-width="7" stroke-linecap="butt"/>
<line x1="953.0" y1="838.2" x2="971.5" y2="838.2" stroke="#000" stroke-width="7" stroke-linecap="butt"/>
<line x1="1836.5" y1="236.7" x2="1855.0" y2="236.7" stroke="#000" stroke-width="7" stroke-linecap="butt"/>
<line x1="1836.5" y1="311.9" x2="1845.5" y2="311.9" stroke="#000" stroke-width="7" stroke-linecap="butt"/>
<line x1="1836.5" y1="387.1" x2="1855.0" y2="387.1" stroke="#000" stroke-width="7" stroke-linecap="butt"/>
<line x1="1836.5" y1="462.3" x2="1845.5" y2="462.3" stroke="#000" stroke-width="7" stroke-linecap="butt"/>
<line x1="1836.5" y1="537.5" x2="1855.0" y2="537.5" stroke="#000" stroke-width="7" stroke-linecap="butt"/>
<line x1="1836.5" y1="612.6" x2="1845.5" y2="612.6" stroke="#000" stroke-width="7" stroke-linecap="butt"/>
<line x1="1836.5" y1="687.8" x2="1855.0" y2="687.8" stroke="#000" stroke-width="7" stroke-linecap="butt"/>
<line x1="1836.5" y1="763.0" x2="1845.5" y2="763.0" stroke="#000" stroke-width="7" stroke-linecap="butt"/>
<line x1="1836.5" y1="838.2" x2="1855.0" y2="838.2" stroke="#000" stroke-width="7" stroke-linecap="butt"/>
<text transform="translate(944.5,256.2) scale(1,1.0407)" x="0" y="0" fill="#000" text-anchor="end" style="font-family:'Liberation Sans', Arial, sans-serif;font-size:64.0px;" >0.25</text>
<text transform="translate(944.5,406.6) scale(1,1.0407)" x="0" y="0" fill="#000" text-anchor="end" style="font-family:'Liberation Sans', Arial, sans-serif;font-size:64.0px;" >0.20</text>
<text transform="translate(944.5,557.0) scale(1,1.0407)" x="0" y="0" fill="#000" text-anchor="end" style="font-family:'Liberation Sans', Arial, sans-serif;font-size:64.0px;" >0.15</text>
<text transform="translate(944.5,707.3) scale(1,1.0407)" x="0" y="0" fill="#000" text-anchor="end" style="font-family:'Liberation Sans', Arial, sans-serif;font-size:64.0px;" >0.10</text>
<text transform="translate(1867.0,256.2) scale(1,1.0407)" x="0" y="0" fill="#000" text-anchor="start" style="font-family:'Liberation Sans', Arial, sans-serif;font-size:64.0px;" >1.2</text>
<text transform="translate(1867.0,406.6) scale(1,1.0407)" x="0" y="0" fill="#000" text-anchor="start" style="font-family:'Liberation Sans', Arial, sans-serif;font-size:64.0px;" >1.0</text>
<text transform="translate(1867.0,556.9) scale(1,1.0407)" x="0" y="0" fill="#000" text-anchor="start" style="font-family:'Liberation Sans', Arial, sans-serif;font-size:64.0px;" >0.8</text>
<text transform="translate(1867.0,707.3) scale(1,1.0407)" x="0" y="0" fill="#000" text-anchor="start" style="font-family:'Liberation Sans', Arial, sans-serif;font-size:64.0px;" >0.6</text>
<text transform="translate(1867.0,857.7) scale(1,1.0407)" x="0" y="0" fill="#000" text-anchor="start" style="font-family:'Liberation Sans', Arial, sans-serif;font-size:64.0px;" >0.4</text>
<text transform="translate(971.5,918.5) scale(1,1.0407)" x="0" y="0" fill="#000" text-anchor="middle" style="font-family:'Liberation Sans', Arial, sans-serif;font-size:64.0px;" >0</text>
<text transform="translate(1144.5,918.5) scale(1,1.0407)" x="0" y="0" fill="#000" text-anchor="middle" style="font-family:'Liberation Sans', Arial, sans-serif;font-size:64.0px;" >5</text>
<text transform="translate(1317.5,918.5) scale(1,1.0407)" x="0" y="0" fill="#000" text-anchor="middle" style="font-family:'Liberation Sans', Arial, sans-serif;font-size:64.0px;" >10</text>
<text transform="translate(1663.5,918.5) scale(1,1.0407)" x="0" y="0" fill="#000" text-anchor="middle" style="font-family:'Liberation Sans', Arial, sans-serif;font-size:64.0px;" >20</text>
<text transform="translate(1836.5,918.5) scale(1,1.0407)" x="0" y="0" fill="#000" text-anchor="middle" style="font-family:'Liberation Sans', Arial, sans-serif;font-size:64.0px;" >25</text>
<text transform="translate(1407.0,951.4) scale(1,1.0407)" x="0" y="0" fill="#000" text-anchor="start" style="font-family:'Liberation Sans', Arial, sans-serif;font-size:80.0px;word-spacing:-4.0px;" ><tspan style="font-style:italic">T</tspan> (K)</text>
<text transform="translate(780,594) rotate(-90) scale(1,1.0407)" x="0" y="0" style="font-family:'Liberation Sans', Arial, sans-serif;font-size:80px"><tspan x="2" style="font-style:italic">ρ</tspan><tspan x="66.8">(</tspan><tspan x="92">m</tspan><tspan x="157.2" style="font-family:'Liberation Serif', serif;font-size:84px">Ω</tspan><tspan x="233.5">c</tspan><tspan x="272.8">m</tspan><tspan x="341.9">)</tspan></text>
<line x1="1217.8" y1="461.9" x2="1217.8" y2="420.0" stroke="#FF8000" stroke-width="7" stroke-linecap="butt"/>
<polygon points="1217.8,381.3 1207.8,424.1 1227.8,424.1" fill="#FF8000"/>
<line x1="1258.6" y1="435.0" x2="1258.6" y2="393.0" stroke="#FF8000" stroke-width="7" stroke-linecap="butt"/>
<polygon points="1258.6,354.4 1248.6,397.2 1268.6,397.2" fill="#FF8000"/>
<line x1="1119.6" y1="606.0" x2="1119.6" y2="656.0" stroke="#AFBB22" stroke-width="5" stroke-linecap="butt"/>
<polygon points="1119.6,568.1 1110.1,610.7 1129.1,610.7" fill="#AFBB22"/>
<polygon points="1119.6,694.6 1129.1,652.0 1110.1,652.0" fill="#AFBB22"/>
<text transform="translate(1163.0,496.7) scale(1,1.0407)" x="0" y="0" fill="#FF8000" text-anchor="start" style="font-family:'Liberation Sans', Arial, sans-serif;font-size:62.5px;" ><tspan style="font-style:italic">T</tspan><tspan dy="16.5" style="font-size:42.0px">C</tspan></text>
<text transform="translate(1263.5,476.8) scale(1,1.0407)" x="0" y="0" fill="#FF8000" text-anchor="start" style="font-family:'Liberation Sans', Arial, sans-serif;font-size:62.5px;" ><tspan style="font-style:italic">T</tspan><tspan dy="18.0" style="font-size:43.0px">M</tspan></text>
<text transform="translate(1131.5,652.0) scale(1,1.0407)" x="0" y="0" fill="#AFBB22" text-anchor="start" style="font-family:'Liberation Sans', Arial, sans-serif;font-size:62.5px;" ><tspan style="font-style:italic">T</tspan><tspan dy="18.0" style="font-size:43.0px">M</tspan></text>
<text transform="translate(1452.3,391.7) scale(1,1.0407)" x="0" y="0" fill="#008080" text-anchor="start" style="font-family:'Liberation Sans', Arial, sans-serif;font-size:64.5px;word-spacing:-3.5px;" >x = 0.9</text>
<text transform="translate(1456.6,558.8) scale(1,1.0407)" x="0" y="0" fill="#FF8000" text-anchor="start" style="font-family:'Liberation Sans', Arial, sans-serif;font-size:64.5px;word-spacing:-3.5px;" >x = 0.99</text>
<text transform="translate(1458.0,737.7) scale(1,1.0407)" x="0" y="0" fill="#AFBB22" text-anchor="start" style="font-family:'Liberation Sans', Arial, sans-serif;font-size:64.5px;word-spacing:-3.5px;" >x = 0.95</text>
<text transform="translate(1280.2,815.9) scale(1,1.0407)" x="0" y="0" style="font-family:'Liberation Sans', Arial, sans-serif;font-size:61px">d<tspan style="font-style:italic">ρ</tspan>/d<tspan style="font-style:italic">T</tspan></text>
<ellipse cx="1064.6" cy="558.7" rx="39.6" ry="66.2" fill="none" stroke="#000" stroke-width="2.6"/>
<ellipse cx="1735.3" cy="332.9" rx="71.8" ry="36.8" fill="none" stroke="#000" stroke-width="2.6"/>
<ellipse cx="1626" cy="1355" rx="179" ry="34.5" fill="none" stroke="#000" stroke-width="2.6"/>
<path d="M1055.5,495 C1040,478 1025,468 1006,464" fill="none" stroke="#000" stroke-width="2.6"/>
<polygon points="975,456.9 1011,458.4 1006,471.4" fill="#000"/>
<path d="M1725,370 C1735,395 1760,408 1802,416" fill="none" stroke="#000" stroke-width="2.6"/>
<polygon points="1834.0,416.6 1799.2,410.0 1799.4,424.0" fill="#000"/>
<path d="M1622,1321 C1680,1296 1760,1271 1940,1271" fill="none" stroke="#000" stroke-width="2.6"/>
<polygon points="1980.0,1271.0 1937.8,1261.5 1937.8,1280.5" fill="#000"/>
</svg>
</body></html>
